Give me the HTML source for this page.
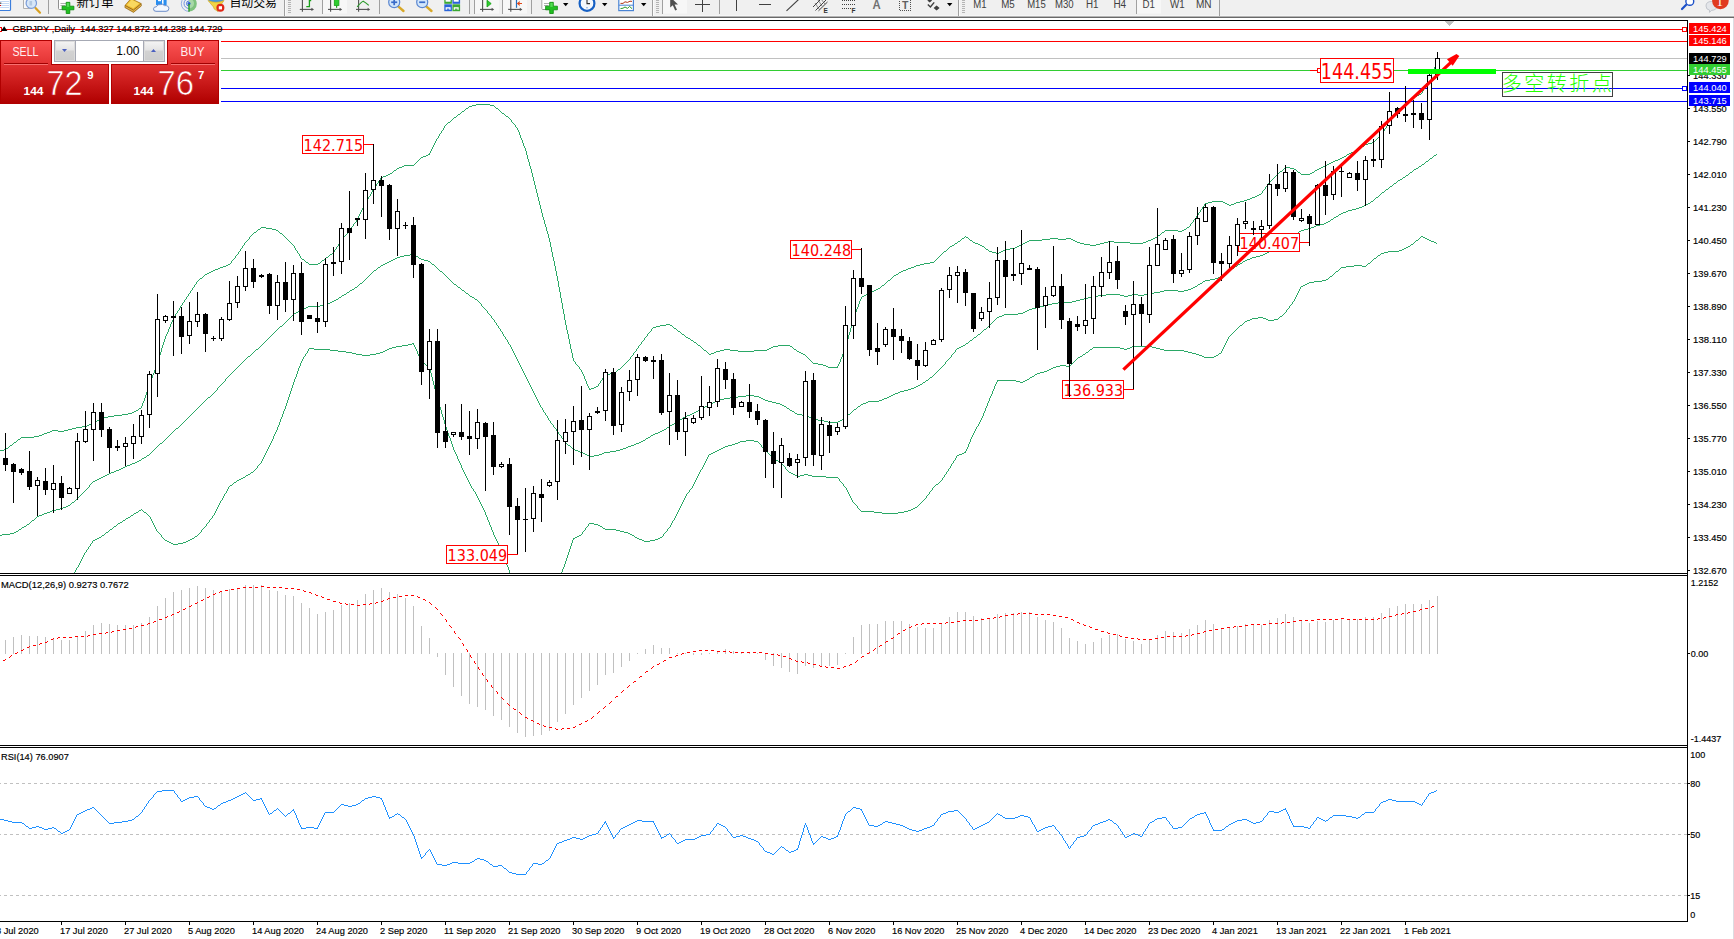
<!DOCTYPE html>
<html><head><meta charset="utf-8"><title>GBPJPY Daily</title>
<style>html,body{margin:0;padding:0;background:#fff}text.s{stroke:#000;stroke-width:.16px}body{width:1734px;height:939px;overflow:hidden;position:relative}</style>
</head><body>
<svg width="1734" height="939" viewBox="0 0 1734 939" style="position:absolute;left:0;top:0;font-family:'Liberation Sans','Noto Sans CJK SC',sans-serif">
<defs>
<linearGradient id="gbtn" x1="0" y1="0" x2="0" y2="1"><stop offset="0" stop-color="#fb5252"/><stop offset="1" stop-color="#e23232"/></linearGradient>
<linearGradient id="gprice" x1="0" y1="0" x2="0" y2="1"><stop offset="0" stop-color="#e03030"/><stop offset="1" stop-color="#b00000"/></linearGradient>
<linearGradient id="gspin" x1="0" y1="0" x2="0" y2="1"><stop offset="0" stop-color="#f4f4f4"/><stop offset="0.45" stop-color="#e4e4e4"/><stop offset="0.5" stop-color="#d2d2d2"/><stop offset="1" stop-color="#cdcdcd"/></linearGradient>
<clipPath id="cmain"><rect x="0" y="21" width="1687" height="552"/></clipPath>
<clipPath id="ctb"><rect x="0" y="0" width="1734" height="16"/></clipPath>
</defs>
<rect x="0" y="0" width="1734" height="939" fill="#fff"/>
<g shape-rendering="crispEdges">
<rect x="0" y="0" width="1734" height="16" fill="#f0f0f0"/>
<rect x="0" y="15" width="1734" height="1" fill="#f5f5f5"/>
<rect x="0" y="16" width="1734" height="1" fill="#b4b4b4"/>
<rect x="0" y="17" width="1734" height="1" fill="#696969"/>
<rect x="1733" y="18" width="1" height="921" fill="#dcdce2"/>
<rect x="0" y="20" width="1688" height="1" fill="#000"/>
<rect x="1687" y="20" width="1" height="902" fill="#000"/>
<rect x="0" y="573" width="1688" height="1" fill="#000"/>
<rect x="0" y="575" width="1688" height="1" fill="#000"/>
<rect x="0" y="745" width="1688" height="1" fill="#000"/>
<rect x="0" y="747" width="1688" height="1" fill="#000"/>
<rect x="0" y="921" width="1688" height="1" fill="#000"/>
<rect x="0" y="574" width="1687" height="1" fill="#fff"/>
<rect x="0" y="746" width="1687" height="1" fill="#fff"/>
</g>
<g clip-path="url(#cmain)">
<g shape-rendering="crispEdges">
<rect x="0" y="29" width="1687" height="1" fill="#ff0000"/>
<rect x="0" y="41" width="1687" height="1" fill="#ff0000"/>
<rect x="0" y="58" width="1687" height="1" fill="#c0c0c0"/>
<rect x="0" y="70" width="1687" height="1" fill="#32cd32"/>
<rect x="0" y="88" width="1687" height="1" fill="#0000ff"/>
<rect x="0" y="101" width="1687" height="1" fill="#0000ff"/>
<rect x="1682.5" y="27.5" width="4" height="4" fill="#fff" stroke="#ff0000" stroke-width="1"/>
<rect x="1682.5" y="86.5" width="4" height="4" fill="#fff" stroke="#0000ff" stroke-width="1"/>
<rect x="-2.5" y="27.5" width="4" height="4" fill="#fff" stroke="#ff0000" stroke-width="1"/>
</g>
<path fill="none" stroke="#2aa866" stroke-width="1" shape-rendering="crispEdges" d="M1419 94.5h2M1417 95.5h2M1415 96.5h2M1413 97.5h2M1410 99.5h2M1406 102.5h2M476 104.5h14M472 105.5h4M490 105.5h4M469 106.5h3M466 108.5h2M496 108.5h2M462 111.5h2M502 113.5h2M458 114.5h2M506 116.5h2M454 117.5h2M448 122.5h2M1372 142.5h2M1368 143.5h4M1365 144.5h3M1362 146.5h2M1358 149.5h2M1356 150.5h2M1354 151.5h2M1351 152.5h3M1349 153.5h2M428 154.5h2M1347 154.5h2M426 155.5h2M423 156.5h3M1344 156.5h2M421 157.5h2M1342 157.5h2M1340 158.5h2M1338 159.5h2M1335 160.5h3M1333 161.5h2M1331 162.5h2M1329 163.5h2M1327 164.5h2M404 165.5h10M1325 165.5h2M402 166.5h2M1323 166.5h2M399 167.5h3M1285 167.5h5M1321 167.5h2M397 168.5h2M1290 168.5h4M1319 168.5h2M1294 169.5h2M1317 169.5h2M394 170.5h2M1315 170.5h2M1280 171.5h2M1298 172.5h2M1312 172.5h2M390 173.5h2M1310 173.5h2M388 174.5h2M1301 174.5h9M386 175.5h2M383 176.5h3M381 177.5h2M1259 194.5h2M1257 195.5h2M1255 196.5h2M1252 197.5h3M1250 198.5h2M1247 199.5h3M1244 200.5h3M1212 201.5h11M1240 201.5h4M1208 202.5h4M1223 202.5h2M1236 202.5h4M1205 203.5h3M1225 203.5h2M1234 203.5h2M1227 204.5h2M1231 204.5h3M1229 205.5h2M261 227.5h5M1187 227.5h2M266 228.5h6M258 229.5h2M272 229.5h4M1184 229.5h2M276 230.5h2M1165 230.5h13M1182 230.5h2M1178 231.5h4M254 232.5h2M1162 232.5h2M280 233.5h2M1158 235.5h2M966 237.5h2M1155 237.5h2M962 238.5h2M1050 238.5h8M1066 238.5h5M1153 238.5h2M1042 239.5h8M1058 239.5h8M1071 239.5h2M1151 239.5h2M970 240.5h2M1029 240.5h13M1073 240.5h2M1148 240.5h3M958 241.5h2M1027 241.5h2M1075 241.5h2M1108 241.5h6M1146 241.5h2M973 242.5h2M1025 242.5h2M1077 242.5h3M1104 242.5h4M1114 242.5h16M1143 242.5h3M955 243.5h2M975 243.5h3M1023 243.5h2M1080 243.5h4M1100 243.5h4M1130 243.5h13M978 244.5h2M1021 244.5h2M1084 244.5h6M1096 244.5h4M952 245.5h2M980 245.5h2M1019 245.5h2M1090 245.5h6M950 246.5h2M982 246.5h2M1017 246.5h2M1015 247.5h2M1010 248.5h5M986 249.5h2M1005 249.5h5M1003 250.5h2M944 251.5h2M989 251.5h3M1001 251.5h2M992 252.5h4M999 252.5h2M996 253.5h3M330 254.5h2M326 257.5h2M302 259.5h2M322 260.5h2M306 262.5h2M930 262.5h4M318 263.5h2M924 263.5h6M228 264.5h2M309 264.5h9M920 264.5h4M226 265.5h2M916 265.5h4M223 266.5h3M914 266.5h2M220 267.5h3M911 267.5h3M218 268.5h2M908 268.5h3M215 269.5h3M906 269.5h2M213 270.5h2M903 270.5h3M211 271.5h2M901 271.5h2M209 272.5h2M899 272.5h2M207 273.5h2M205 274.5h2M896 274.5h2M894 275.5h2M200 278.5h2M888 280.5h2M882 285.5h2M878 288.5h2M876 289.5h2M874 290.5h2M871 291.5h3M869 292.5h2M867 293.5h2M864 295.5h2M862 296.5h2M666 324.5h4M660 325.5h6M670 325.5h2M656 326.5h4M653 327.5h3M674 328.5h2M678 331.5h2M682 334.5h2M686 337.5h2M688 338.5h2M691 340.5h2M694 342.5h2M698 345.5h2M778 345.5h12M773 346.5h5M790 346.5h2M771 347.5h2M769 348.5h2M724 349.5h6M767 349.5h2M794 349.5h2M704 350.5h2M720 350.5h4M730 350.5h8M754 350.5h13M716 351.5h4M738 351.5h16M797 351.5h2M714 352.5h2M799 352.5h2M711 353.5h3M801 353.5h2M709 354.5h2M803 354.5h2M813 363.5h5M818 364.5h5M823 365.5h3M826 366.5h2M828 367.5h10M618 369.5h2M614 372.5h2M610 373.5h4M605 374.5h5M596 386.5h2M594 387.5h2M591 388.5h3M589 389.5h2M139 408.5h2M136 410.5h2M134 411.5h2M132 412.5h2M128 413.5h4M122 414.5h6M114 415.5h8M108 416.5h6M104 417.5h4M101 418.5h3M99 419.5h2M97 420.5h2M95 421.5h2M93 422.5h2M91 423.5h2M89 424.5h2M87 425.5h2M82 426.5h5M76 427.5h6M72 428.5h4M68 429.5h4M52 430.5h6M64 430.5h4M50 431.5h2M58 431.5h6M47 432.5h3M44 433.5h3M42 434.5h2M39 435.5h3M34 436.5h5M21 437.5h13M18 439.5h2M14 442.5h2M10 445.5h2M6 448.5h2M4 449.5h2M0 450.5h4M8.5 447v1M9.5 446v1M12.5 444v1M13.5 443v1M16.5 441v1M17.5 440v1M20.5 438v1M138.5 409v1M141.5 406v2M142.5 403v3M143.5 401v2M144.5 398v3M145.5 395v3M146.5 392v3M147.5 390v2M148.5 387v3M149.5 384v3M150.5 381v3M151.5 378v3M152.5 375v3M153.5 373v2M154.5 370v3M155.5 367v3M156.5 364v3M157.5 361v3M158.5 358v3M159.5 355v3M160.5 352v3M161.5 348v4M162.5 345v3M163.5 342v3M164.5 339v3M165.5 336v3M166.5 334v2M167.5 332v2M168.5 329v3M169.5 327v2M170.5 324v3M171.5 322v2M172.5 320v2M173.5 318v2M174.5 316v2M175.5 314v2M176.5 313v1M177.5 311v2M178.5 310v1M179.5 308v2M180.5 306v2M181.5 305v1M182.5 303v2M183.5 302v1M184.5 300v2M185.5 299v1M186.5 297v2M187.5 296v1M188.5 294v2M189.5 293v1M190.5 291v2M191.5 290v1M192.5 288v2M193.5 287v1M194.5 285v2M195.5 284v1M196.5 282v2M197.5 281v1M198.5 280v1M199.5 279v1M202.5 277v1M203.5 276v1M204.5 275v1M230.5 263v1M231.5 261v2M232.5 260v1M233.5 259v1M234.5 258v1M235.5 256v2M236.5 255v1M237.5 254v1M238.5 252v2M239.5 251v1M240.5 249v2M241.5 248v1M242.5 246v2M243.5 245v1M244.5 243v2M245.5 242v1M246.5 241v1M247.5 240v1M248.5 239v1M249.5 237v2M250.5 236v1M251.5 235v1M252.5 234v1M253.5 233v1M256.5 231v1M257.5 230v1M260.5 228v1M278.5 231v1M279.5 232v1M282.5 234v1M283.5 235v1M284.5 236v1M285.5 237v1M286.5 238v1M287.5 239v1M288.5 240v1M289.5 241v1M290.5 242v1M291.5 243v1M292.5 244v1M293.5 245v1M294.5 246v2M295.5 248v2M296.5 250v1M297.5 251v2M298.5 253v1M299.5 254v2M300.5 256v2M301.5 258v1M304.5 260v1M305.5 261v1M308.5 263v1M320.5 262v1M321.5 261v1M324.5 259v1M325.5 258v1M328.5 256v1M329.5 255v1M332.5 253v1M333.5 252v1M334.5 250v2M335.5 249v1M336.5 247v2M337.5 246v1M338.5 244v2M339.5 243v1M340.5 241v2M341.5 240v1M342.5 239v1M343.5 237v2M344.5 236v1M345.5 235v1M346.5 234v1M347.5 232v2M348.5 231v1M349.5 230v1M350.5 228v2M351.5 227v1M352.5 226v1M353.5 224v2M354.5 223v1M355.5 222v1M356.5 220v2M357.5 218v2M358.5 216v2M359.5 214v2M360.5 212v2M361.5 210v2M362.5 208v2M363.5 206v2M364.5 204v2M365.5 203v1M366.5 201v2M367.5 199v2M368.5 197v2M369.5 196v1M370.5 194v2M371.5 192v2M372.5 190v2M373.5 189v1M374.5 187v2M375.5 186v1M376.5 184v2M377.5 183v1M378.5 181v2M379.5 180v1M380.5 178v2M392.5 172v1M393.5 171v1M396.5 169v1M414.5 164v1M415.5 163v1M416.5 162v1M417.5 161v1M418.5 160v1M419.5 159v1M420.5 158v1M429.5 153v1M430.5 151v2M431.5 149v2M432.5 147v2M433.5 145v2M434.5 143v2M435.5 141v2M436.5 139v2M437.5 138v1M438.5 136v2M439.5 134v2M440.5 133v1M441.5 131v2M442.5 130v1M443.5 128v2M444.5 126v2M445.5 125v1M446.5 124v1M447.5 123v1M450.5 121v1M451.5 120v1M452.5 119v1M453.5 118v1M456.5 116v1M457.5 115v1M460.5 113v1M461.5 112v1M464.5 110v1M465.5 109v1M468.5 107v1M494.5 106v1M495.5 107v1M498.5 109v1M499.5 110v1M500.5 111v1M501.5 112v1M504.5 114v1M505.5 115v1M508.5 117v1M509.5 118v1M510.5 119v1M511.5 120v2M512.5 122v1M513.5 123v1M514.5 124v1M515.5 125v2M516.5 127v1M517.5 128v2M518.5 130v2M519.5 132v3M520.5 135v3M521.5 138v2M522.5 140v3M523.5 143v3M524.5 146v2M525.5 148v3M526.5 151v4M527.5 155v4M528.5 159v3M529.5 162v4M530.5 166v3M531.5 169v4M532.5 173v4M533.5 177v4M534.5 181v4M535.5 185v4M536.5 189v4M537.5 193v4M538.5 197v4M539.5 201v4M540.5 205v4M541.5 209v4M542.5 213v4M543.5 217v3M544.5 220v4M545.5 224v3M546.5 227v4M547.5 231v3M548.5 234v4M549.5 238v4M550.5 242v5M551.5 247v5M552.5 252v5M553.5 257v4M554.5 261v5M555.5 266v5M556.5 271v5M557.5 276v5M558.5 281v6M559.5 287v5M560.5 292v6M561.5 298v5M562.5 303v6M563.5 309v5M564.5 314v6M565.5 320v5M566.5 325v5M567.5 330v4M568.5 334v5M569.5 339v5M570.5 344v5M571.5 349v4M572.5 353v5M573.5 358v3M574.5 361v1M575.5 362v2M576.5 364v1M577.5 365v1M578.5 366v1M579.5 367v2M580.5 369v1M581.5 370v2M582.5 372v2M583.5 374v2M584.5 376v3M585.5 379v2M586.5 381v3M587.5 384v2M588.5 386v2M589.5 388v1M598.5 384v2M599.5 383v1M600.5 381v2M601.5 380v1M602.5 378v2M603.5 377v1M604.5 375v2M616.5 371v1M617.5 370v1M620.5 368v1M621.5 367v1M622.5 366v1M623.5 365v1M624.5 364v1M625.5 363v1M626.5 362v1M627.5 361v1M628.5 360v1M629.5 359v1M630.5 357v2M631.5 356v1M632.5 355v1M633.5 353v2M634.5 352v1M635.5 351v1M636.5 349v2M637.5 348v1M638.5 346v2M639.5 345v1M640.5 344v1M641.5 342v2M642.5 341v1M643.5 340v1M644.5 338v2M645.5 337v1M646.5 336v1M647.5 334v2M648.5 333v1M649.5 332v1M650.5 331v1M651.5 329v2M652.5 328v1M672.5 326v1M673.5 327v1M676.5 329v1M677.5 330v1M680.5 332v1M681.5 333v1M684.5 335v1M685.5 336v1M690.5 339v1M693.5 341v1M696.5 343v1M697.5 344v1M700.5 346v1M701.5 347v1M702.5 348v1M703.5 349v1M706.5 351v1M707.5 352v1M708.5 353v1M792.5 347v1M793.5 348v1M796.5 350v1M805.5 355v1M806.5 356v1M807.5 357v1M808.5 358v1M809.5 359v1M810.5 360v1M811.5 361v1M812.5 362v1M837.5 366v1M838.5 364v2M839.5 362v2M840.5 359v3M841.5 357v2M842.5 354v3M843.5 352v2M844.5 350v2M845.5 347v3M846.5 343v4M847.5 339v4M848.5 335v4M849.5 332v3M850.5 328v4M851.5 324v4M852.5 320v4M853.5 317v3M854.5 315v2M855.5 312v3M856.5 309v3M857.5 307v2M858.5 304v3M859.5 301v3M860.5 299v2M861.5 297v2M866.5 294v1M880.5 287v1M881.5 286v1M884.5 284v1M885.5 283v1M886.5 282v1M887.5 281v1M890.5 279v1M891.5 278v1M892.5 277v1M893.5 276v1M898.5 273v1M934.5 261v1M935.5 260v1M936.5 259v1M937.5 258v1M938.5 257v1M939.5 256v1M940.5 255v1M941.5 254v1M942.5 253v1M943.5 252v1M946.5 250v1M947.5 249v1M948.5 248v1M949.5 247v1M954.5 244v1M957.5 242v1M960.5 240v1M961.5 239v1M964.5 237v1M965.5 236v1M968.5 238v1M969.5 239v1M972.5 241v1M984.5 247v1M985.5 248v1M988.5 250v1M1157.5 236v1M1160.5 234v1M1161.5 233v1M1164.5 231v1M1186.5 228v1M1189.5 226v1M1190.5 224v2M1191.5 223v1M1192.5 222v1M1193.5 220v2M1194.5 219v1M1195.5 218v1M1196.5 216v2M1197.5 215v1M1198.5 213v2M1199.5 212v1M1200.5 210v2M1201.5 209v1M1202.5 207v2M1203.5 206v1M1204.5 204v2M1261.5 193v1M1262.5 191v2M1263.5 190v1M1264.5 189v1M1265.5 187v2M1266.5 186v1M1267.5 185v1M1268.5 183v2M1269.5 182v1M1270.5 181v1M1271.5 180v1M1272.5 179v1M1273.5 178v1M1274.5 177v1M1275.5 176v1M1276.5 175v1M1277.5 174v1M1278.5 173v1M1279.5 172v1M1282.5 170v1M1283.5 169v1M1284.5 168v1M1296.5 170v1M1297.5 171v1M1300.5 173v1M1314.5 171v1M1346.5 155v1M1360.5 148v1M1361.5 147v1M1364.5 145v1M1374.5 141v1M1375.5 140v1M1376.5 139v1M1377.5 138v1M1378.5 137v1M1379.5 136v1M1380.5 135v1M1381.5 134v1M1382.5 132v2M1383.5 131v1M1384.5 129v2M1385.5 128v1M1386.5 126v2M1387.5 125v1M1388.5 123v2M1389.5 122v1M1390.5 121v1M1391.5 119v2M1392.5 118v1M1393.5 117v1M1394.5 116v1M1395.5 114v2M1396.5 113v1M1397.5 112v1M1398.5 111v1M1399.5 110v1M1400.5 109v1M1401.5 107v2M1402.5 106v1M1403.5 105v1M1404.5 104v1M1405.5 103v1M1408.5 101v1M1409.5 100v1M1412.5 98v1M1421.5 93v1M1422.5 91v2M1423.5 89v2M1424.5 87v2M1425.5 85v2M1426.5 83v2M1427.5 81v2M1428.5 79v2M1429.5 77v2M1430.5 75v2M1431.5 73v2M1432.5 71v2M1433.5 69v2M1434.5 67v2M1435.5 65v2M1436.5 63v2"/>
<path fill="none" stroke="#2aa866" stroke-width="1" shape-rendering="crispEdges" d="M1434 155.5h2M1430 158.5h2M1426 161.5h2M1422 164.5h2M1419 166.5h2M1416 168.5h2M1414 169.5h2M1410 172.5h2M1406 175.5h2M1403 177.5h2M1400 179.5h2M1398 180.5h2M1394 183.5h2M1390 186.5h2M1386 189.5h2M1382 192.5h2M1376 197.5h2M1371 201.5h2M1368 203.5h2M1366 204.5h2M1364 205.5h2M1362 206.5h2M1359 207.5h3M1356 208.5h3M1352 209.5h4M1348 210.5h4M1346 211.5h2M1343 212.5h3M1341 213.5h2M1339 214.5h2M1336 216.5h2M1334 217.5h2M1331 219.5h2M1328 221.5h2M1326 222.5h2M1324 223.5h2M1320 224.5h4M1316 225.5h4M1314 226.5h2M1311 227.5h3M1308 228.5h3M1304 229.5h4M1301 230.5h3M1299 231.5h2M1296 233.5h2M1294 234.5h2M1291 236.5h2M1289 237.5h2M1287 238.5h2M1285 239.5h2M1275 248.5h2M1273 249.5h2M1271 250.5h2M1269 251.5h2M1267 252.5h2M1265 253.5h2M410 254.5h4M1263 254.5h2M404 255.5h6M414 255.5h2M1260 255.5h3M400 256.5h4M416 256.5h2M1256 256.5h4M397 257.5h3M1252 257.5h4M395 258.5h2M419 258.5h2M1250 258.5h2M393 259.5h2M421 259.5h3M1247 259.5h3M391 260.5h2M424 260.5h4M1245 260.5h2M389 261.5h2M428 261.5h2M1243 261.5h2M387 262.5h2M385 263.5h2M1240 263.5h2M383 264.5h2M432 264.5h2M1238 264.5h2M381 265.5h2M1235 266.5h2M378 267.5h2M1232 268.5h2M1230 269.5h2M374 270.5h2M440 271.5h2M1226 272.5h2M1222 275.5h2M1220 276.5h2M1218 277.5h2M1215 278.5h3M1210 279.5h5M1205 280.5h5M1203 281.5h2M360 283.5h2M1200 283.5h2M454 284.5h2M1198 284.5h2M1195 286.5h2M355 287.5h2M458 287.5h2M1193 287.5h2M1191 288.5h2M352 289.5h2M1188 289.5h3M350 290.5h2M462 290.5h2M1164 290.5h14M1184 290.5h4M1160 291.5h4M1178 291.5h6M347 292.5h2M1154 292.5h6M466 293.5h2M1148 293.5h6M344 294.5h2M1106 294.5h14M1132 294.5h6M1144 294.5h4M342 295.5h2M1098 295.5h8M1120 295.5h4M1128 295.5h4M1138 295.5h6M470 296.5h2M1092 296.5h6M1124 296.5h4M339 297.5h2M472 297.5h2M1088 297.5h4M1084 298.5h4M336 299.5h2M475 299.5h2M1080 299.5h4M334 300.5h2M1076 300.5h4M332 301.5h2M1072 301.5h4M330 302.5h2M1058 302.5h14M327 303.5h3M1052 303.5h6M324 304.5h3M1048 304.5h4M320 305.5h4M1044 305.5h4M308 306.5h12M1040 306.5h4M306 307.5h2M1036 307.5h4M303 308.5h3M1032 308.5h4M301 309.5h2M1029 309.5h3M299 310.5h2M1027 310.5h2M1025 311.5h2M296 312.5h2M1023 312.5h2M294 313.5h2M1018 313.5h5M1004 314.5h14M1002 315.5h2M999 316.5h3M997 317.5h2M280 326.5h2M984 329.5h2M978 334.5h2M974 337.5h2M970 340.5h2M966 343.5h2M963 345.5h2M961 346.5h2M959 347.5h2M957 348.5h2M256 349.5h2M248 356.5h2M930 377.5h2M926 380.5h2M923 382.5h2M920 384.5h2M918 385.5h2M916 386.5h2M914 387.5h2M911 388.5h3M908 389.5h3M904 390.5h4M900 391.5h4M898 392.5h2M895 393.5h3M893 394.5h2M746 395.5h8M891 395.5h2M738 396.5h8M754 396.5h5M889 396.5h2M208 397.5h2M730 397.5h8M759 397.5h2M887 397.5h2M724 398.5h6M761 398.5h2M884 398.5h3M720 399.5h4M763 399.5h2M882 399.5h2M717 400.5h3M765 400.5h3M879 400.5h3M715 401.5h2M768 401.5h4M868 401.5h11M713 402.5h2M772 402.5h4M866 402.5h2M711 403.5h2M776 403.5h4M863 403.5h3M709 404.5h2M780 404.5h2M861 404.5h2M707 405.5h2M782 405.5h2M705 406.5h2M784 406.5h2M858 406.5h2M703 407.5h2M701 408.5h2M787 408.5h2M699 409.5h2M854 409.5h2M790 410.5h2M696 411.5h2M792 411.5h2M694 412.5h2M692 413.5h2M795 413.5h2M690 414.5h2M797 414.5h5M848 414.5h2M687 415.5h3M802 415.5h5M685 416.5h2M807 416.5h2M683 417.5h2M809 417.5h2M811 418.5h2M843 418.5h2M680 419.5h2M813 419.5h5M678 420.5h2M818 420.5h6M840 420.5h2M824 421.5h4M838 421.5h2M675 422.5h2M828 422.5h10M672 424.5h2M670 425.5h2M667 427.5h2M176 428.5h2M664 429.5h2M662 430.5h2M660 431.5h2M658 432.5h2M655 433.5h3M653 434.5h2M651 435.5h2M648 437.5h2M646 438.5h2M643 440.5h2M641 441.5h2M639 442.5h2M160 443.5h2M636 443.5h3M634 444.5h2M568 445.5h2M631 445.5h3M628 446.5h3M626 447.5h2M623 448.5h3M573 449.5h2M620 449.5h3M575 450.5h3M616 450.5h4M578 451.5h2M610 451.5h6M580 452.5h3M604 452.5h6M583 453.5h2M602 453.5h2M585 454.5h2M599 454.5h3M147 455.5h2M587 455.5h2M594 455.5h5M589 456.5h5M144 457.5h2M142 458.5h2M139 460.5h2M137 461.5h2M135 462.5h2M132 463.5h3M130 464.5h2M127 465.5h3M125 466.5h2M123 467.5h2M121 468.5h2M119 469.5h2M116 470.5h3M114 471.5h2M111 472.5h3M109 473.5h2M107 474.5h2M105 475.5h2M103 476.5h2M101 477.5h2M99 478.5h2M97 479.5h2M95 480.5h2M93 481.5h2M72 502.5h2M68 505.5h2M66 506.5h2M63 507.5h3M60 508.5h3M56 509.5h4M52 510.5h4M50 511.5h2M47 512.5h3M44 513.5h3M42 514.5h2M39 515.5h3M37 516.5h2M32 520.5h2M27 524.5h2M24 526.5h2M22 527.5h2M19 529.5h2M16 531.5h2M14 532.5h2M10 533.5h4M2 534.5h8M0 535.5h2M18.5 530v1M21.5 528v1M26.5 525v1M29.5 523v1M30.5 522v1M31.5 521v1M34.5 519v1M35.5 518v1M36.5 517v1M70.5 504v1M71.5 503v1M74.5 501v1M75.5 500v1M76.5 499v1M77.5 498v1M78.5 497v1M79.5 496v1M80.5 495v1M81.5 494v1M82.5 493v1M83.5 492v1M84.5 491v1M85.5 490v1M86.5 489v1M87.5 488v1M88.5 487v1M89.5 485v2M90.5 484v1M91.5 483v1M92.5 482v1M141.5 459v1M146.5 456v1M149.5 454v1M150.5 453v1M151.5 452v1M152.5 451v1M153.5 450v1M154.5 449v1M155.5 448v1M156.5 447v1M157.5 446v1M158.5 445v1M159.5 444v1M162.5 442v1M163.5 441v1M164.5 440v1M165.5 439v1M166.5 438v1M167.5 437v1M168.5 436v1M169.5 435v1M170.5 434v1M171.5 433v1M172.5 432v1M173.5 431v1M174.5 430v1M175.5 429v1M178.5 427v1M179.5 426v1M180.5 425v1M181.5 424v1M182.5 423v1M183.5 422v1M184.5 421v1M185.5 420v1M186.5 419v1M187.5 418v1M188.5 417v1M189.5 416v1M190.5 415v1M191.5 414v1M192.5 413v1M193.5 412v1M194.5 411v1M195.5 410v1M196.5 409v1M197.5 408v1M198.5 407v1M199.5 406v1M200.5 405v1M201.5 404v1M202.5 403v1M203.5 402v1M204.5 401v1M205.5 400v1M206.5 399v1M207.5 398v1M210.5 396v1M211.5 395v1M212.5 394v1M213.5 393v1M214.5 392v1M215.5 391v1M216.5 390v1M217.5 388v2M218.5 387v1M219.5 386v1M220.5 385v1M221.5 384v1M222.5 383v1M223.5 382v1M224.5 381v1M225.5 379v2M226.5 378v1M227.5 377v1M228.5 376v1M229.5 375v1M230.5 374v1M231.5 373v1M232.5 372v1M233.5 371v1M234.5 370v1M235.5 369v1M236.5 368v1M237.5 367v1M238.5 366v1M239.5 365v1M240.5 364v1M241.5 363v1M242.5 362v1M243.5 361v1M244.5 360v1M245.5 359v1M246.5 358v1M247.5 357v1M250.5 355v1M251.5 354v1M252.5 353v1M253.5 352v1M254.5 351v1M255.5 350v1M258.5 348v1M259.5 347v1M260.5 346v1M261.5 345v1M262.5 344v1M263.5 343v1M264.5 342v1M265.5 341v1M266.5 340v1M267.5 339v1M268.5 338v1M269.5 337v1M270.5 336v1M271.5 335v1M272.5 334v1M273.5 333v1M274.5 332v1M275.5 331v1M276.5 330v1M277.5 329v1M278.5 328v1M279.5 327v1M282.5 325v1M283.5 324v1M284.5 323v1M285.5 322v1M286.5 321v1M287.5 320v1M288.5 319v1M289.5 318v1M290.5 317v1M291.5 316v1M292.5 315v1M293.5 314v1M298.5 311v1M338.5 298v1M341.5 296v1M346.5 293v1M349.5 291v1M354.5 288v1M357.5 286v1M358.5 285v1M359.5 284v1M362.5 282v1M363.5 281v1M364.5 280v1M365.5 279v1M366.5 278v1M367.5 277v1M368.5 276v1M369.5 275v1M370.5 274v1M371.5 273v1M372.5 272v1M373.5 271v1M376.5 269v1M377.5 268v1M380.5 266v1M418.5 257v1M430.5 262v1M431.5 263v1M434.5 265v1M435.5 266v1M436.5 267v1M437.5 268v1M438.5 269v1M439.5 270v1M442.5 272v1M443.5 273v1M444.5 274v1M445.5 275v1M446.5 276v1M447.5 277v1M448.5 278v1M449.5 279v1M450.5 280v1M451.5 281v1M452.5 282v1M453.5 283v1M456.5 285v1M457.5 286v1M460.5 288v1M461.5 289v1M464.5 291v1M465.5 292v1M468.5 294v1M469.5 295v1M474.5 298v1M477.5 300v1M478.5 301v1M479.5 302v1M480.5 303v1M481.5 304v2M482.5 306v1M483.5 307v1M484.5 308v1M485.5 309v1M486.5 310v1M487.5 311v2M488.5 313v1M489.5 314v1M490.5 315v1M491.5 316v2M492.5 318v1M493.5 319v1M494.5 320v2M495.5 322v1M496.5 323v2M497.5 325v1M498.5 326v2M499.5 328v1M500.5 329v2M501.5 331v1M502.5 332v2M503.5 334v2M504.5 336v1M505.5 337v2M506.5 339v1M507.5 340v2M508.5 342v2M509.5 344v1M510.5 345v2M511.5 347v2M512.5 349v2M513.5 351v2M514.5 353v2M515.5 355v2M516.5 357v2M517.5 359v2M518.5 361v2M519.5 363v2M520.5 365v2M521.5 367v2M522.5 369v2M523.5 371v2M524.5 373v2M525.5 375v2M526.5 377v2M527.5 379v2M528.5 381v2M529.5 383v2M530.5 385v2M531.5 387v2M532.5 389v2M533.5 391v2M534.5 393v2M535.5 395v2M536.5 397v2M537.5 399v2M538.5 401v2M539.5 403v2M540.5 405v2M541.5 407v1M542.5 408v2M543.5 410v2M544.5 412v1M545.5 413v2M546.5 415v1M547.5 416v2M548.5 418v2M549.5 420v1M550.5 421v2M551.5 423v1M552.5 424v1M553.5 425v2M554.5 427v1M555.5 428v1M556.5 429v2M557.5 431v1M558.5 432v2M559.5 434v1M560.5 435v1M561.5 436v2M562.5 438v1M563.5 439v1M564.5 440v2M565.5 442v1M566.5 443v1M567.5 444v1M570.5 446v1M571.5 447v1M572.5 448v1M645.5 439v1M650.5 436v1M666.5 428v1M669.5 426v1M674.5 423v1M677.5 421v1M682.5 418v1M698.5 410v1M786.5 407v1M789.5 409v1M794.5 412v1M842.5 419v1M845.5 417v1M846.5 416v1M847.5 415v1M850.5 413v1M851.5 412v1M852.5 411v1M853.5 410v1M856.5 408v1M857.5 407v1M860.5 405v1M922.5 383v1M925.5 381v1M928.5 379v1M929.5 378v1M932.5 376v1M933.5 375v1M934.5 374v1M935.5 373v1M936.5 372v1M937.5 371v1M938.5 370v1M939.5 369v1M940.5 368v1M941.5 367v1M942.5 366v1M943.5 365v1M944.5 364v1M945.5 362v2M946.5 361v1M947.5 360v1M948.5 359v1M949.5 358v1M950.5 357v1M951.5 355v2M952.5 354v1M953.5 353v1M954.5 352v1M955.5 350v2M956.5 349v1M965.5 344v1M968.5 342v1M969.5 341v1M972.5 339v1M973.5 338v1M976.5 336v1M977.5 335v1M980.5 333v1M981.5 332v1M982.5 331v1M983.5 330v1M986.5 328v1M987.5 327v1M988.5 326v1M989.5 325v1M990.5 324v1M991.5 323v1M992.5 322v1M993.5 321v1M994.5 320v1M995.5 319v1M996.5 318v1M1197.5 285v1M1202.5 282v1M1224.5 274v1M1225.5 273v1M1228.5 271v1M1229.5 270v1M1234.5 267v1M1237.5 265v1M1242.5 262v1M1277.5 247v1M1278.5 246v1M1279.5 245v1M1280.5 244v1M1281.5 243v1M1282.5 242v1M1283.5 241v1M1284.5 240v1M1293.5 235v1M1298.5 232v1M1330.5 220v1M1333.5 218v1M1338.5 215v1M1370.5 202v1M1373.5 200v1M1374.5 199v1M1375.5 198v1M1378.5 196v1M1379.5 195v1M1380.5 194v1M1381.5 193v1M1384.5 191v1M1385.5 190v1M1388.5 188v1M1389.5 187v1M1392.5 185v1M1393.5 184v1M1396.5 182v1M1397.5 181v1M1402.5 178v1M1405.5 176v1M1408.5 174v1M1409.5 173v1M1412.5 171v1M1413.5 170v1M1418.5 167v1M1421.5 165v1M1424.5 163v1M1425.5 162v1M1428.5 160v1M1429.5 159v1M1432.5 157v1M1433.5 156v1M1436.5 154v1"/>
<path fill="none" stroke="#2aa866" stroke-width="1" shape-rendering="crispEdges" d="M1421 236.5h2M1423 237.5h2M1425 238.5h2M1427 239.5h2M1416 240.5h2M1429 240.5h2M1431 241.5h3M1434 242.5h2M1411 244.5h2M1408 246.5h2M1406 247.5h2M1404 248.5h2M1402 249.5h2M1399 250.5h3M1388 251.5h11M1384 252.5h4M1381 253.5h3M1378 255.5h2M1374 258.5h2M1368 263.5h2M1354 265.5h8M1346 266.5h8M1362 266.5h4M1341 267.5h5M1336 271.5h2M1330 276.5h2M1326 279.5h2M1322 280.5h4M1314 281.5h8M1309 282.5h5M1307 283.5h2M1305 284.5h2M1303 285.5h2M1301 286.5h2M1280 316.5h2M1258 317.5h5M1252 318.5h6M1263 318.5h3M1250 319.5h2M1266 319.5h2M1274 319.5h4M1247 320.5h3M1268 320.5h6M1245 321.5h2M1240 325.5h2M412 343.5h2M408 344.5h4M402 345.5h6M396 346.5h6M1132 346.5h20M392 347.5h4M1093 347.5h27M1130 347.5h2M1152 347.5h4M309 348.5h5M389 348.5h3M1120 348.5h4M1127 348.5h3M1156 348.5h4M314 349.5h16M387 349.5h2M1090 349.5h2M1124 349.5h3M1160 349.5h4M330 350.5h8M385 350.5h2M1164 350.5h20M338 351.5h8M383 351.5h2M1184 351.5h4M346 352.5h6M380 352.5h3M1086 352.5h2M1188 352.5h4M352 353.5h4M376 353.5h4M1192 353.5h4M1219 353.5h2M356 354.5h6M370 354.5h6M1083 354.5h2M1196 354.5h3M362 355.5h8M1199 355.5h3M1216 355.5h2M1080 356.5h2M1202 356.5h2M1214 356.5h2M1078 357.5h2M1204 357.5h10M422 362.5h2M426 365.5h2M1060 365.5h6M1056 366.5h4M1066 366.5h4M1053 367.5h3M1051 368.5h2M1049 369.5h2M1047 370.5h2M1044 371.5h3M1040 372.5h4M1037 373.5h3M1035 374.5h2M1032 376.5h2M1030 377.5h2M1027 379.5h2M997 380.5h19M1025 380.5h2M1016 381.5h4M1023 381.5h2M1020 382.5h3M746 440.5h8M740 441.5h6M754 441.5h4M738 442.5h2M735 443.5h3M732 444.5h3M728 445.5h4M725 446.5h3M723 447.5h2M721 448.5h2M719 449.5h2M717 450.5h2M715 451.5h2M713 452.5h2M964 452.5h2M711 453.5h2M962 453.5h2M709 454.5h2M959 454.5h3M957 455.5h2M774 459.5h2M776 460.5h2M779 462.5h2M251 472.5h2M789 472.5h2M791 473.5h2M248 474.5h2M793 474.5h2M804 474.5h4M246 475.5h2M795 475.5h2M800 475.5h4M808 475.5h4M797 476.5h3M812 476.5h14M243 477.5h2M826 477.5h12M241 478.5h2M239 479.5h2M237 480.5h2M234 482.5h2M936 484.5h2M230 485.5h2M915 507.5h2M913 508.5h2M911 509.5h2M139 510.5h2M908 510.5h3M861 511.5h13M904 511.5h4M136 512.5h2M144 512.5h2M874 512.5h8M898 512.5h6M134 513.5h2M882 513.5h16M131 515.5h2M128 517.5h2M126 518.5h2M123 520.5h2M120 522.5h2M118 523.5h2M589 523.5h5M594 524.5h4M598 525.5h2M114 526.5h2M600 526.5h2M603 528.5h2M110 529.5h2M605 529.5h11M616 530.5h4M620 531.5h4M106 532.5h2M624 532.5h4M628 533.5h2M630 534.5h2M102 535.5h2M579 535.5h2M632 535.5h2M195 536.5h2M577 536.5h2M99 537.5h2M575 537.5h2M635 537.5h2M660 537.5h2M97 538.5h2M192 538.5h2M573 538.5h2M637 538.5h2M658 538.5h2M95 539.5h2M190 539.5h2M639 539.5h3M655 539.5h3M93 540.5h2M165 540.5h2M188 540.5h2M642 540.5h2M650 540.5h5M167 541.5h2M186 541.5h2M644 541.5h6M169 542.5h2M183 542.5h3M171 543.5h2M178 543.5h5M173 544.5h5M74.5 572v1M75.5 570v2M76.5 568v2M77.5 567v1M78.5 565v2M79.5 563v2M80.5 561v2M81.5 559v2M82.5 557v2M83.5 555v2M84.5 553v2M85.5 552v1M86.5 550v2M87.5 549v1M88.5 547v2M89.5 546v1M90.5 544v2M91.5 543v1M92.5 541v2M101.5 536v1M104.5 534v1M105.5 533v1M108.5 531v1M109.5 530v1M112.5 528v1M113.5 527v1M116.5 525v1M117.5 524v1M122.5 521v1M125.5 519v1M130.5 516v1M133.5 514v1M138.5 511v1M141.5 509v1M142.5 510v1M143.5 511v1M146.5 513v1M147.5 514v1M148.5 515v1M149.5 516v1M150.5 517v2M151.5 519v2M152.5 521v2M153.5 523v2M154.5 525v2M155.5 527v2M156.5 529v2M157.5 531v1M158.5 532v1M159.5 533v1M160.5 534v1M161.5 535v2M162.5 537v1M163.5 538v1M164.5 539v1M194.5 537v1M197.5 535v1M198.5 534v1M199.5 533v1M200.5 532v1M201.5 530v2M202.5 529v1M203.5 528v1M204.5 527v1M205.5 526v1M206.5 524v2M207.5 523v1M208.5 522v1M209.5 520v2M210.5 519v1M211.5 518v1M212.5 516v2M213.5 515v1M214.5 513v2M215.5 511v2M216.5 509v2M217.5 507v2M218.5 505v2M219.5 503v2M220.5 501v2M221.5 500v1M222.5 498v2M223.5 496v2M224.5 494v2M225.5 493v1M226.5 491v2M227.5 489v2M228.5 487v2M229.5 486v1M232.5 484v1M233.5 483v1M236.5 481v1M245.5 476v1M250.5 473v1M253.5 471v1M254.5 470v1M255.5 469v1M256.5 468v1M257.5 466v2M258.5 465v1M259.5 464v1M260.5 463v1M261.5 461v2M262.5 459v2M263.5 457v2M264.5 455v2M265.5 453v2M266.5 451v2M267.5 449v2M268.5 447v2M269.5 445v2M270.5 443v2M271.5 441v2M272.5 439v2M273.5 436v3M274.5 434v2M275.5 432v2M276.5 430v2M277.5 427v3M278.5 425v2M279.5 422v3M280.5 419v3M281.5 417v2M282.5 414v3M283.5 411v3M284.5 409v2M285.5 406v3M286.5 403v3M287.5 400v3M288.5 397v3M289.5 394v3M290.5 391v3M291.5 388v3M292.5 385v3M293.5 382v3M294.5 379v3M295.5 377v2M296.5 374v3M297.5 371v3M298.5 368v3M299.5 366v2M300.5 363v3M301.5 361v2M302.5 359v2M303.5 357v2M304.5 356v1M305.5 354v2M306.5 353v1M307.5 351v2M308.5 349v2M413.5 344v1M414.5 345v2M415.5 347v2M416.5 349v2M417.5 351v3M418.5 354v2M419.5 356v2M420.5 358v2M421.5 360v2M424.5 363v1M425.5 364v1M428.5 366v1M429.5 367v2M430.5 369v4M431.5 373v4M432.5 377v4M433.5 381v4M434.5 385v4M435.5 389v4M436.5 393v4M437.5 397v3M438.5 400v4M439.5 404v3M440.5 407v3M441.5 410v4M442.5 414v3M443.5 417v3M444.5 420v4M445.5 424v3M446.5 427v3M447.5 430v3M448.5 433v3M449.5 436v2M450.5 438v3M451.5 441v3M452.5 444v3M453.5 447v3M454.5 450v2M455.5 452v2M456.5 454v2M457.5 456v3M458.5 459v2M459.5 461v2M460.5 463v2M461.5 465v3M462.5 468v2M463.5 470v2M464.5 472v2M465.5 474v2M466.5 476v2M467.5 478v2M468.5 480v2M469.5 482v2M470.5 484v2M471.5 486v2M472.5 488v1M473.5 489v2M474.5 491v1M475.5 492v2M476.5 494v2M477.5 496v2M478.5 498v2M479.5 500v2M480.5 502v2M481.5 504v2M482.5 506v2M483.5 508v2M484.5 510v2M485.5 512v3M486.5 515v2M487.5 517v3M488.5 520v2M489.5 522v3M490.5 525v2M491.5 527v3M492.5 530v2M493.5 532v3M494.5 535v2M495.5 537v2M496.5 539v2M497.5 541v2M498.5 543v2M499.5 545v2M500.5 547v2M501.5 549v2M502.5 551v3M503.5 554v2M504.5 556v3M505.5 559v3M506.5 562v3M507.5 565v2M508.5 567v3M509.5 570v3M561.5 572v1M562.5 569v3M563.5 567v2M564.5 564v3M565.5 561v3M566.5 558v3M567.5 555v3M568.5 552v3M569.5 549v3M570.5 546v3M571.5 543v3M572.5 540v3M573.5 539v1M581.5 534v1M582.5 532v2M583.5 531v1M584.5 530v1M585.5 528v2M586.5 527v1M587.5 526v1M588.5 524v2M602.5 527v1M634.5 536v1M662.5 536v1M663.5 534v2M664.5 533v1M665.5 532v1M666.5 531v1M667.5 529v2M668.5 528v1M669.5 527v1M670.5 525v2M671.5 523v2M672.5 521v2M673.5 520v1M674.5 518v2M675.5 516v2M676.5 514v2M677.5 512v2M678.5 510v2M679.5 508v2M680.5 506v2M681.5 504v2M682.5 502v2M683.5 500v2M684.5 498v2M685.5 496v2M686.5 494v2M687.5 493v1M688.5 492v1M689.5 490v2M690.5 489v1M691.5 488v1M692.5 486v2M693.5 484v2M694.5 482v2M695.5 480v2M696.5 478v2M697.5 476v2M698.5 474v2M699.5 472v2M700.5 470v2M701.5 469v1M702.5 467v2M703.5 465v2M704.5 463v2M705.5 461v2M706.5 459v2M707.5 457v2M708.5 455v2M758.5 442v1M759.5 443v1M760.5 444v1M761.5 445v2M762.5 447v1M763.5 448v1M764.5 449v1M765.5 450v1M766.5 451v1M767.5 452v1M768.5 453v1M769.5 454v1M770.5 455v1M771.5 456v1M772.5 457v1M773.5 458v1M778.5 461v1M781.5 463v1M782.5 464v1M783.5 465v1M784.5 466v1M785.5 467v2M786.5 469v1M787.5 470v1M788.5 471v1M838.5 478v1M839.5 479v2M840.5 481v1M841.5 482v1M842.5 483v1M843.5 484v2M844.5 486v1M845.5 487v1M846.5 488v2M847.5 490v2M848.5 492v2M849.5 494v2M850.5 496v2M851.5 498v2M852.5 500v2M853.5 502v1M854.5 503v1M855.5 504v1M856.5 505v1M857.5 506v2M858.5 508v1M859.5 509v1M860.5 510v1M917.5 506v1M918.5 505v1M919.5 504v1M920.5 503v1M921.5 502v1M922.5 501v1M923.5 500v1M924.5 499v1M925.5 498v1M926.5 496v2M927.5 495v1M928.5 494v1M929.5 492v2M930.5 491v1M931.5 490v1M932.5 488v2M933.5 487v1M934.5 486v1M935.5 485v1M938.5 483v1M939.5 482v1M940.5 481v1M941.5 480v1M942.5 478v2M943.5 477v1M944.5 475v2M945.5 474v1M946.5 472v2M947.5 471v1M948.5 469v2M949.5 468v1M950.5 466v2M951.5 464v2M952.5 463v1M953.5 461v2M954.5 460v1M955.5 458v2M956.5 456v2M965.5 451v1M966.5 449v2M967.5 447v2M968.5 444v3M969.5 442v2M970.5 439v3M971.5 437v2M972.5 435v2M973.5 433v2M974.5 431v2M975.5 429v2M976.5 427v2M977.5 426v1M978.5 424v2M979.5 422v2M980.5 420v2M981.5 418v2M982.5 416v2M983.5 413v3M984.5 411v2M985.5 408v3M986.5 406v2M987.5 403v3M988.5 401v2M989.5 398v3M990.5 396v2M991.5 394v2M992.5 391v3M993.5 389v2M994.5 386v3M995.5 384v2M996.5 382v2M997.5 381v1M1029.5 378v1M1034.5 375v1M1070.5 365v1M1071.5 364v1M1072.5 363v1M1073.5 362v1M1074.5 361v1M1075.5 360v1M1076.5 359v1M1077.5 358v1M1082.5 355v1M1085.5 353v1M1088.5 351v1M1089.5 350v1M1092.5 348v1M1218.5 354v1M1221.5 351v2M1222.5 349v2M1223.5 347v2M1224.5 345v2M1225.5 343v2M1226.5 341v2M1227.5 339v2M1228.5 337v2M1229.5 336v1M1230.5 335v1M1231.5 334v1M1232.5 333v1M1233.5 332v1M1234.5 331v1M1235.5 330v1M1236.5 329v1M1237.5 328v1M1238.5 327v1M1239.5 326v1M1242.5 324v1M1243.5 323v1M1244.5 322v1M1278.5 318v1M1279.5 317v1M1282.5 315v1M1283.5 314v1M1284.5 313v1M1285.5 312v1M1286.5 310v2M1287.5 309v1M1288.5 308v1M1289.5 306v2M1290.5 305v1M1291.5 304v1M1292.5 302v2M1293.5 301v1M1294.5 299v2M1295.5 297v2M1296.5 295v2M1297.5 293v2M1298.5 291v2M1299.5 289v2M1300.5 287v2M1328.5 278v1M1329.5 277v1M1332.5 275v1M1333.5 274v1M1334.5 273v1M1335.5 272v1M1338.5 270v1M1339.5 269v1M1340.5 268v1M1366.5 265v1M1367.5 264v1M1370.5 262v1M1371.5 261v1M1372.5 260v1M1373.5 259v1M1376.5 257v1M1377.5 256v1M1380.5 254v1M1410.5 245v1M1413.5 243v1M1414.5 242v1M1415.5 241v1M1418.5 239v1M1419.5 238v1M1420.5 237v1M1436.5 243v1"/>
<rect x="302.5" y="135.5" width="61" height="18" fill="#fff" stroke="#ff0000" stroke-width="1" shape-rendering="crispEdges"/>
<text x="303.6" y="151.1" font-size="16.2" fill="#ff0000" font-family="'DejaVu Sans','Liberation Sans',sans-serif" textLength="59.6" lengthAdjust="spacingAndGlyphs">142.715</text>
<rect x="364" y="144" width="10" height="1" fill="#ff0000" shape-rendering="crispEdges"/>
<rect x="446.5" y="545.5" width="61" height="18" fill="#fff" stroke="#ff0000" stroke-width="1" shape-rendering="crispEdges"/>
<text x="447.6" y="561.1" font-size="16.2" fill="#ff0000" font-family="'DejaVu Sans','Liberation Sans',sans-serif" textLength="59.6" lengthAdjust="spacingAndGlyphs">133.049</text>
<rect x="508" y="554" width="10" height="1" fill="#ff0000" shape-rendering="crispEdges"/>
<rect x="790.5" y="240.5" width="61" height="18" fill="#fff" stroke="#ff0000" stroke-width="1" shape-rendering="crispEdges"/>
<text x="791.6" y="256.1" font-size="16.2" fill="#ff0000" font-family="'DejaVu Sans','Liberation Sans',sans-serif" textLength="59.6" lengthAdjust="spacingAndGlyphs">140.248</text>
<rect x="852" y="249" width="10" height="1" fill="#ff0000" shape-rendering="crispEdges"/>
<rect x="1062.5" y="380.5" width="61" height="18" fill="#fff" stroke="#ff0000" stroke-width="1" shape-rendering="crispEdges"/>
<text x="1063.6" y="396.1" font-size="16.2" fill="#ff0000" font-family="'DejaVu Sans','Liberation Sans',sans-serif" textLength="59.6" lengthAdjust="spacingAndGlyphs">136.933</text>
<rect x="1124" y="389" width="10" height="1" fill="#ff0000" shape-rendering="crispEdges"/>
<rect x="1238.5" y="233.5" width="61" height="18" fill="#fff" stroke="#ff0000" stroke-width="1" shape-rendering="crispEdges"/>
<text x="1239.6" y="249.1" font-size="16.2" fill="#ff0000" font-family="'DejaVu Sans','Liberation Sans',sans-serif" textLength="59.6" lengthAdjust="spacingAndGlyphs">140.407</text>
<rect x="1300" y="242" width="10" height="1" fill="#ff0000" shape-rendering="crispEdges"/>
<rect x="1320.5" y="58.5" width="73" height="24" fill="#fff" stroke="#ff0000" stroke-width="1" shape-rendering="crispEdges"/>
<text x="1320.8" y="78.7" font-size="20.6" fill="#ff0000" font-family="'DejaVu Sans','Liberation Sans',sans-serif" textLength="72.6" lengthAdjust="spacingAndGlyphs">144.455</text>
<g shape-rendering="crispEdges"><rect x="1310" y="70" width="8" height="1" fill="#ff0000"/><rect x="1317.5" y="68.5" width="3" height="4" fill="#fff" stroke="#ff0000"/></g>
<g shape-rendering="crispEdges">
<rect x="5" y="433" width="1" height="38" fill="#000"/>
<rect x="3" y="458" width="5" height="7" fill="#000"/>
<rect x="13" y="463" width="1" height="40" fill="#000"/>
<rect x="11" y="464" width="5" height="8" fill="#000"/>
<rect x="21" y="468" width="1" height="7" fill="#000"/>
<rect x="19" y="469" width="5" height="4" fill="#000"/>
<rect x="29" y="451" width="1" height="39" fill="#000"/>
<rect x="27" y="471" width="5" height="16" fill="#000"/>
<rect x="37" y="477" width="1" height="39" fill="#000"/>
<rect x="35" y="480" width="5" height="6" fill="#000"/>
<rect x="36" y="481" width="3" height="4" fill="#fff"/>
<rect x="45" y="468" width="1" height="27" fill="#000"/>
<rect x="43" y="481" width="5" height="9" fill="#000"/>
<rect x="53" y="465" width="1" height="48" fill="#000"/>
<rect x="51" y="483" width="5" height="7" fill="#000"/>
<rect x="52" y="484" width="3" height="5" fill="#fff"/>
<rect x="61" y="476" width="1" height="34" fill="#000"/>
<rect x="59" y="483" width="5" height="15" fill="#000"/>
<rect x="69" y="487" width="1" height="7" fill="#000"/>
<rect x="67" y="488" width="5" height="6" fill="#000"/>
<rect x="68" y="489" width="3" height="4" fill="#fff"/>
<rect x="77" y="433" width="1" height="67" fill="#000"/>
<rect x="75" y="441" width="5" height="48" fill="#000"/>
<rect x="76" y="442" width="3" height="46" fill="#fff"/>
<rect x="85" y="411" width="1" height="32" fill="#000"/>
<rect x="83" y="429" width="5" height="13" fill="#000"/>
<rect x="84" y="430" width="3" height="11" fill="#fff"/>
<rect x="93" y="403" width="1" height="58" fill="#000"/>
<rect x="91" y="412" width="5" height="18" fill="#000"/>
<rect x="92" y="413" width="3" height="16" fill="#fff"/>
<rect x="101" y="403" width="1" height="34" fill="#000"/>
<rect x="99" y="412" width="5" height="18" fill="#000"/>
<rect x="109" y="427" width="1" height="46" fill="#000"/>
<rect x="107" y="429" width="5" height="19" fill="#000"/>
<rect x="117" y="440" width="1" height="11" fill="#000"/>
<rect x="115" y="446" width="5" height="2" fill="#000"/>
<rect x="125" y="437" width="1" height="29" fill="#000"/>
<rect x="123" y="443" width="5" height="4" fill="#000"/>
<rect x="124" y="444" width="3" height="2" fill="#fff"/>
<rect x="133" y="424" width="1" height="35" fill="#000"/>
<rect x="131" y="436" width="5" height="8" fill="#000"/>
<rect x="132" y="437" width="3" height="6" fill="#fff"/>
<rect x="141" y="410" width="1" height="34" fill="#000"/>
<rect x="139" y="415" width="5" height="22" fill="#000"/>
<rect x="140" y="416" width="3" height="20" fill="#fff"/>
<rect x="149" y="371" width="1" height="57" fill="#000"/>
<rect x="147" y="374" width="5" height="41" fill="#000"/>
<rect x="148" y="375" width="3" height="39" fill="#fff"/>
<rect x="157" y="294" width="1" height="103" fill="#000"/>
<rect x="155" y="319" width="5" height="55" fill="#000"/>
<rect x="156" y="320" width="3" height="53" fill="#fff"/>
<rect x="165" y="315" width="1" height="8" fill="#000"/>
<rect x="163" y="316" width="5" height="5" fill="#000"/>
<rect x="164" y="317" width="3" height="3" fill="#fff"/>
<rect x="173" y="301" width="1" height="55" fill="#000"/>
<rect x="171" y="316" width="5" height="2" fill="#000"/>
<rect x="181" y="307" width="1" height="47" fill="#000"/>
<rect x="179" y="316" width="5" height="21" fill="#000"/>
<rect x="189" y="302" width="1" height="42" fill="#000"/>
<rect x="187" y="321" width="5" height="15" fill="#000"/>
<rect x="188" y="322" width="3" height="13" fill="#fff"/>
<rect x="197" y="292" width="1" height="35" fill="#000"/>
<rect x="195" y="314" width="5" height="8" fill="#000"/>
<rect x="196" y="315" width="3" height="6" fill="#fff"/>
<rect x="205" y="313" width="1" height="39" fill="#000"/>
<rect x="203" y="314" width="5" height="20" fill="#000"/>
<rect x="213" y="336" width="1" height="5" fill="#000"/>
<rect x="211" y="338" width="5" height="1" fill="#000"/>
<rect x="221" y="317" width="1" height="24" fill="#000"/>
<rect x="219" y="319" width="5" height="20" fill="#000"/>
<rect x="220" y="320" width="3" height="18" fill="#fff"/>
<rect x="229" y="281" width="1" height="40" fill="#000"/>
<rect x="227" y="303" width="5" height="17" fill="#000"/>
<rect x="228" y="304" width="3" height="15" fill="#fff"/>
<rect x="237" y="276" width="1" height="32" fill="#000"/>
<rect x="235" y="286" width="5" height="17" fill="#000"/>
<rect x="236" y="287" width="3" height="15" fill="#fff"/>
<rect x="245" y="251" width="1" height="40" fill="#000"/>
<rect x="243" y="268" width="5" height="19" fill="#000"/>
<rect x="244" y="269" width="3" height="17" fill="#fff"/>
<rect x="253" y="259" width="1" height="29" fill="#000"/>
<rect x="251" y="268" width="5" height="14" fill="#000"/>
<rect x="261" y="274" width="1" height="4" fill="#000"/>
<rect x="259" y="275" width="5" height="2" fill="#000"/>
<rect x="269" y="273" width="1" height="41" fill="#000"/>
<rect x="267" y="274" width="5" height="32" fill="#000"/>
<rect x="277" y="275" width="1" height="45" fill="#000"/>
<rect x="275" y="282" width="5" height="24" fill="#000"/>
<rect x="276" y="283" width="3" height="22" fill="#fff"/>
<rect x="285" y="262" width="1" height="50" fill="#000"/>
<rect x="283" y="282" width="5" height="18" fill="#000"/>
<rect x="293" y="265" width="1" height="56" fill="#000"/>
<rect x="291" y="273" width="5" height="27" fill="#000"/>
<rect x="292" y="274" width="3" height="25" fill="#fff"/>
<rect x="301" y="262" width="1" height="73" fill="#000"/>
<rect x="299" y="273" width="5" height="49" fill="#000"/>
<rect x="309" y="315" width="1" height="4" fill="#000"/>
<rect x="307" y="315" width="5" height="4" fill="#000"/>
<rect x="317" y="302" width="1" height="31" fill="#000"/>
<rect x="315" y="318" width="5" height="4" fill="#000"/>
<rect x="325" y="258" width="1" height="69" fill="#000"/>
<rect x="323" y="264" width="5" height="58" fill="#000"/>
<rect x="324" y="265" width="3" height="56" fill="#fff"/>
<rect x="333" y="247" width="1" height="29" fill="#000"/>
<rect x="331" y="262" width="5" height="2" fill="#000"/>
<rect x="341" y="223" width="1" height="51" fill="#000"/>
<rect x="339" y="228" width="5" height="34" fill="#000"/>
<rect x="340" y="229" width="3" height="32" fill="#fff"/>
<rect x="349" y="191" width="1" height="69" fill="#000"/>
<rect x="347" y="228" width="5" height="5" fill="#000"/>
<rect x="357" y="218" width="1" height="8" fill="#000"/>
<rect x="355" y="218" width="5" height="2" fill="#000"/>
<rect x="365" y="173" width="1" height="66" fill="#000"/>
<rect x="363" y="190" width="5" height="30" fill="#000"/>
<rect x="364" y="191" width="3" height="28" fill="#fff"/>
<rect x="373" y="144" width="1" height="60" fill="#000"/>
<rect x="371" y="180" width="5" height="10" fill="#000"/>
<rect x="372" y="181" width="3" height="8" fill="#fff"/>
<rect x="381" y="176" width="1" height="41" fill="#000"/>
<rect x="379" y="180" width="5" height="6" fill="#000"/>
<rect x="389" y="184" width="1" height="56" fill="#000"/>
<rect x="387" y="185" width="5" height="44" fill="#000"/>
<rect x="397" y="199" width="1" height="57" fill="#000"/>
<rect x="395" y="211" width="5" height="18" fill="#000"/>
<rect x="396" y="212" width="3" height="16" fill="#fff"/>
<rect x="405" y="222" width="1" height="7" fill="#000"/>
<rect x="403" y="225" width="5" height="1" fill="#000"/>
<rect x="413" y="217" width="1" height="61" fill="#000"/>
<rect x="411" y="225" width="5" height="40" fill="#000"/>
<rect x="421" y="263" width="1" height="122" fill="#000"/>
<rect x="419" y="264" width="5" height="108" fill="#000"/>
<rect x="429" y="329" width="1" height="70" fill="#000"/>
<rect x="427" y="341" width="5" height="29" fill="#000"/>
<rect x="428" y="342" width="3" height="27" fill="#fff"/>
<rect x="437" y="329" width="1" height="119" fill="#000"/>
<rect x="435" y="341" width="5" height="92" fill="#000"/>
<rect x="445" y="404" width="1" height="44" fill="#000"/>
<rect x="443" y="431" width="5" height="11" fill="#000"/>
<rect x="453" y="432" width="1" height="5" fill="#000"/>
<rect x="451" y="432" width="5" height="3" fill="#000"/>
<rect x="452" y="433" width="3" height="1" fill="#fff"/>
<rect x="461" y="404" width="1" height="36" fill="#000"/>
<rect x="459" y="432" width="5" height="5" fill="#000"/>
<rect x="469" y="411" width="1" height="44" fill="#000"/>
<rect x="467" y="436" width="5" height="3" fill="#000"/>
<rect x="477" y="409" width="1" height="40" fill="#000"/>
<rect x="475" y="422" width="5" height="17" fill="#000"/>
<rect x="476" y="423" width="3" height="15" fill="#fff"/>
<rect x="485" y="422" width="1" height="69" fill="#000"/>
<rect x="483" y="423" width="5" height="14" fill="#000"/>
<rect x="493" y="422" width="1" height="53" fill="#000"/>
<rect x="491" y="435" width="5" height="32" fill="#000"/>
<rect x="501" y="462" width="1" height="6" fill="#000"/>
<rect x="499" y="464" width="5" height="3" fill="#000"/>
<rect x="500" y="465" width="3" height="1" fill="#fff"/>
<rect x="509" y="458" width="1" height="77" fill="#000"/>
<rect x="507" y="464" width="5" height="43" fill="#000"/>
<rect x="517" y="498" width="1" height="56" fill="#000"/>
<rect x="515" y="506" width="5" height="14" fill="#000"/>
<rect x="525" y="488" width="1" height="64" fill="#000"/>
<rect x="523" y="519" width="5" height="1" fill="#000"/>
<rect x="533" y="486" width="1" height="46" fill="#000"/>
<rect x="531" y="493" width="5" height="26" fill="#000"/>
<rect x="532" y="494" width="3" height="24" fill="#fff"/>
<rect x="541" y="479" width="1" height="43" fill="#000"/>
<rect x="539" y="494" width="5" height="4" fill="#000"/>
<rect x="549" y="480" width="1" height="7" fill="#000"/>
<rect x="547" y="482" width="5" height="4" fill="#000"/>
<rect x="548" y="483" width="3" height="2" fill="#fff"/>
<rect x="557" y="420" width="1" height="80" fill="#000"/>
<rect x="555" y="440" width="5" height="42" fill="#000"/>
<rect x="556" y="441" width="3" height="40" fill="#fff"/>
<rect x="565" y="419" width="1" height="35" fill="#000"/>
<rect x="563" y="432" width="5" height="10" fill="#000"/>
<rect x="564" y="433" width="3" height="8" fill="#fff"/>
<rect x="573" y="406" width="1" height="59" fill="#000"/>
<rect x="571" y="421" width="5" height="11" fill="#000"/>
<rect x="572" y="422" width="3" height="9" fill="#fff"/>
<rect x="581" y="386" width="1" height="71" fill="#000"/>
<rect x="579" y="420" width="5" height="10" fill="#000"/>
<rect x="589" y="413" width="1" height="57" fill="#000"/>
<rect x="587" y="416" width="5" height="14" fill="#000"/>
<rect x="588" y="417" width="3" height="12" fill="#fff"/>
<rect x="597" y="407" width="1" height="7" fill="#000"/>
<rect x="595" y="411" width="5" height="2" fill="#000"/>
<rect x="605" y="369" width="1" height="52" fill="#000"/>
<rect x="603" y="372" width="5" height="39" fill="#000"/>
<rect x="604" y="373" width="3" height="37" fill="#fff"/>
<rect x="613" y="368" width="1" height="67" fill="#000"/>
<rect x="611" y="372" width="5" height="54" fill="#000"/>
<rect x="621" y="387" width="1" height="45" fill="#000"/>
<rect x="619" y="392" width="5" height="33" fill="#000"/>
<rect x="620" y="393" width="3" height="31" fill="#fff"/>
<rect x="629" y="370" width="1" height="31" fill="#000"/>
<rect x="627" y="380" width="5" height="12" fill="#000"/>
<rect x="628" y="381" width="3" height="10" fill="#fff"/>
<rect x="637" y="354" width="1" height="42" fill="#000"/>
<rect x="635" y="357" width="5" height="23" fill="#000"/>
<rect x="636" y="358" width="3" height="21" fill="#fff"/>
<rect x="645" y="356" width="1" height="6" fill="#000"/>
<rect x="643" y="357" width="5" height="4" fill="#000"/>
<rect x="653" y="356" width="1" height="23" fill="#000"/>
<rect x="651" y="360" width="5" height="2" fill="#000"/>
<rect x="661" y="354" width="1" height="61" fill="#000"/>
<rect x="659" y="360" width="5" height="53" fill="#000"/>
<rect x="669" y="373" width="1" height="72" fill="#000"/>
<rect x="667" y="395" width="5" height="17" fill="#000"/>
<rect x="668" y="396" width="3" height="15" fill="#fff"/>
<rect x="677" y="380" width="1" height="60" fill="#000"/>
<rect x="675" y="395" width="5" height="37" fill="#000"/>
<rect x="685" y="412" width="1" height="44" fill="#000"/>
<rect x="683" y="418" width="5" height="14" fill="#000"/>
<rect x="684" y="419" width="3" height="12" fill="#fff"/>
<rect x="693" y="415" width="1" height="9" fill="#000"/>
<rect x="691" y="418" width="5" height="5" fill="#000"/>
<rect x="692" y="419" width="3" height="3" fill="#fff"/>
<rect x="701" y="376" width="1" height="44" fill="#000"/>
<rect x="699" y="406" width="5" height="12" fill="#000"/>
<rect x="700" y="407" width="3" height="10" fill="#fff"/>
<rect x="709" y="386" width="1" height="30" fill="#000"/>
<rect x="707" y="402" width="5" height="6" fill="#000"/>
<rect x="708" y="403" width="3" height="4" fill="#fff"/>
<rect x="717" y="359" width="1" height="48" fill="#000"/>
<rect x="715" y="368" width="5" height="34" fill="#000"/>
<rect x="716" y="369" width="3" height="32" fill="#fff"/>
<rect x="725" y="362" width="1" height="27" fill="#000"/>
<rect x="723" y="369" width="5" height="11" fill="#000"/>
<rect x="733" y="373" width="1" height="42" fill="#000"/>
<rect x="731" y="379" width="5" height="29" fill="#000"/>
<rect x="741" y="401" width="1" height="6" fill="#000"/>
<rect x="739" y="402" width="5" height="5" fill="#000"/>
<rect x="740" y="403" width="3" height="3" fill="#fff"/>
<rect x="749" y="384" width="1" height="34" fill="#000"/>
<rect x="747" y="402" width="5" height="10" fill="#000"/>
<rect x="757" y="404" width="1" height="21" fill="#000"/>
<rect x="755" y="411" width="5" height="9" fill="#000"/>
<rect x="765" y="419" width="1" height="59" fill="#000"/>
<rect x="763" y="420" width="5" height="32" fill="#000"/>
<rect x="773" y="432" width="1" height="56" fill="#000"/>
<rect x="771" y="451" width="5" height="13" fill="#000"/>
<rect x="781" y="438" width="1" height="60" fill="#000"/>
<rect x="779" y="445" width="5" height="18" fill="#000"/>
<rect x="780" y="446" width="3" height="16" fill="#fff"/>
<rect x="789" y="453" width="1" height="14" fill="#000"/>
<rect x="787" y="458" width="5" height="8" fill="#000"/>
<rect x="797" y="454" width="1" height="24" fill="#000"/>
<rect x="795" y="459" width="5" height="4" fill="#000"/>
<rect x="796" y="460" width="3" height="2" fill="#fff"/>
<rect x="805" y="371" width="1" height="95" fill="#000"/>
<rect x="803" y="381" width="5" height="77" fill="#000"/>
<rect x="804" y="382" width="3" height="75" fill="#fff"/>
<rect x="813" y="373" width="1" height="93" fill="#000"/>
<rect x="811" y="380" width="5" height="75" fill="#000"/>
<rect x="821" y="417" width="1" height="53" fill="#000"/>
<rect x="819" y="424" width="5" height="32" fill="#000"/>
<rect x="820" y="425" width="3" height="30" fill="#fff"/>
<rect x="829" y="421" width="1" height="32" fill="#000"/>
<rect x="827" y="425" width="5" height="11" fill="#000"/>
<rect x="837" y="423" width="1" height="12" fill="#000"/>
<rect x="835" y="427" width="5" height="5" fill="#000"/>
<rect x="836" y="428" width="3" height="3" fill="#fff"/>
<rect x="845" y="306" width="1" height="123" fill="#000"/>
<rect x="843" y="325" width="5" height="102" fill="#000"/>
<rect x="844" y="326" width="3" height="100" fill="#fff"/>
<rect x="853" y="270" width="1" height="69" fill="#000"/>
<rect x="851" y="278" width="5" height="48" fill="#000"/>
<rect x="852" y="279" width="3" height="46" fill="#fff"/>
<rect x="861" y="248" width="1" height="46" fill="#000"/>
<rect x="859" y="278" width="5" height="9" fill="#000"/>
<rect x="869" y="285" width="1" height="71" fill="#000"/>
<rect x="867" y="285" width="5" height="65" fill="#000"/>
<rect x="877" y="323" width="1" height="42" fill="#000"/>
<rect x="875" y="348" width="5" height="4" fill="#000"/>
<rect x="885" y="327" width="1" height="20" fill="#000"/>
<rect x="883" y="329" width="5" height="16" fill="#000"/>
<rect x="884" y="330" width="3" height="14" fill="#fff"/>
<rect x="893" y="308" width="1" height="52" fill="#000"/>
<rect x="891" y="329" width="5" height="8" fill="#000"/>
<rect x="901" y="329" width="1" height="24" fill="#000"/>
<rect x="899" y="336" width="5" height="5" fill="#000"/>
<rect x="909" y="337" width="1" height="23" fill="#000"/>
<rect x="907" y="341" width="5" height="18" fill="#000"/>
<rect x="917" y="344" width="1" height="36" fill="#000"/>
<rect x="915" y="360" width="5" height="6" fill="#000"/>
<rect x="925" y="342" width="1" height="25" fill="#000"/>
<rect x="923" y="350" width="5" height="16" fill="#000"/>
<rect x="924" y="351" width="3" height="14" fill="#fff"/>
<rect x="933" y="339" width="1" height="6" fill="#000"/>
<rect x="931" y="340" width="5" height="5" fill="#000"/>
<rect x="932" y="341" width="3" height="3" fill="#fff"/>
<rect x="941" y="288" width="1" height="54" fill="#000"/>
<rect x="939" y="290" width="5" height="50" fill="#000"/>
<rect x="940" y="291" width="3" height="48" fill="#fff"/>
<rect x="949" y="267" width="1" height="31" fill="#000"/>
<rect x="947" y="275" width="5" height="15" fill="#000"/>
<rect x="948" y="276" width="3" height="13" fill="#fff"/>
<rect x="957" y="266" width="1" height="37" fill="#000"/>
<rect x="955" y="272" width="5" height="4" fill="#000"/>
<rect x="956" y="273" width="3" height="2" fill="#fff"/>
<rect x="965" y="269" width="1" height="37" fill="#000"/>
<rect x="963" y="272" width="5" height="21" fill="#000"/>
<rect x="973" y="293" width="1" height="39" fill="#000"/>
<rect x="971" y="293" width="5" height="36" fill="#000"/>
<rect x="981" y="307" width="1" height="14" fill="#000"/>
<rect x="979" y="312" width="5" height="7" fill="#000"/>
<rect x="980" y="313" width="3" height="5" fill="#fff"/>
<rect x="989" y="282" width="1" height="46" fill="#000"/>
<rect x="987" y="298" width="5" height="14" fill="#000"/>
<rect x="988" y="299" width="3" height="12" fill="#fff"/>
<rect x="997" y="247" width="1" height="58" fill="#000"/>
<rect x="995" y="260" width="5" height="38" fill="#000"/>
<rect x="996" y="261" width="3" height="36" fill="#fff"/>
<rect x="1005" y="241" width="1" height="67" fill="#000"/>
<rect x="1003" y="260" width="5" height="17" fill="#000"/>
<rect x="1013" y="248" width="1" height="33" fill="#000"/>
<rect x="1011" y="274" width="5" height="2" fill="#000"/>
<rect x="1021" y="230" width="1" height="55" fill="#000"/>
<rect x="1019" y="263" width="5" height="11" fill="#000"/>
<rect x="1020" y="264" width="3" height="9" fill="#fff"/>
<rect x="1029" y="265" width="1" height="5" fill="#000"/>
<rect x="1027" y="268" width="5" height="2" fill="#000"/>
<rect x="1037" y="267" width="1" height="83" fill="#000"/>
<rect x="1035" y="269" width="5" height="39" fill="#000"/>
<rect x="1045" y="287" width="1" height="41" fill="#000"/>
<rect x="1043" y="296" width="5" height="10" fill="#000"/>
<rect x="1044" y="297" width="3" height="8" fill="#fff"/>
<rect x="1053" y="246" width="1" height="51" fill="#000"/>
<rect x="1051" y="286" width="5" height="10" fill="#000"/>
<rect x="1052" y="287" width="3" height="8" fill="#fff"/>
<rect x="1061" y="274" width="1" height="55" fill="#000"/>
<rect x="1059" y="286" width="5" height="34" fill="#000"/>
<rect x="1069" y="318" width="1" height="79" fill="#000"/>
<rect x="1067" y="321" width="5" height="43" fill="#000"/>
<rect x="1077" y="316" width="1" height="15" fill="#000"/>
<rect x="1075" y="324" width="5" height="3" fill="#000"/>
<rect x="1085" y="284" width="1" height="50" fill="#000"/>
<rect x="1083" y="320" width="5" height="6" fill="#000"/>
<rect x="1084" y="321" width="3" height="4" fill="#fff"/>
<rect x="1093" y="276" width="1" height="58" fill="#000"/>
<rect x="1091" y="286" width="5" height="33" fill="#000"/>
<rect x="1092" y="287" width="3" height="31" fill="#fff"/>
<rect x="1101" y="257" width="1" height="40" fill="#000"/>
<rect x="1099" y="272" width="5" height="15" fill="#000"/>
<rect x="1100" y="273" width="3" height="13" fill="#fff"/>
<rect x="1109" y="241" width="1" height="38" fill="#000"/>
<rect x="1107" y="262" width="5" height="11" fill="#000"/>
<rect x="1108" y="263" width="3" height="9" fill="#fff"/>
<rect x="1117" y="246" width="1" height="43" fill="#000"/>
<rect x="1115" y="261" width="5" height="19" fill="#000"/>
<rect x="1125" y="305" width="1" height="20" fill="#000"/>
<rect x="1123" y="311" width="5" height="6" fill="#000"/>
<rect x="1133" y="281" width="1" height="108" fill="#000"/>
<rect x="1131" y="304" width="5" height="11" fill="#000"/>
<rect x="1132" y="305" width="3" height="9" fill="#fff"/>
<rect x="1141" y="297" width="1" height="49" fill="#000"/>
<rect x="1139" y="304" width="5" height="10" fill="#000"/>
<rect x="1149" y="247" width="1" height="76" fill="#000"/>
<rect x="1147" y="265" width="5" height="50" fill="#000"/>
<rect x="1148" y="266" width="3" height="48" fill="#fff"/>
<rect x="1157" y="208" width="1" height="58" fill="#000"/>
<rect x="1155" y="244" width="5" height="22" fill="#000"/>
<rect x="1156" y="245" width="3" height="20" fill="#fff"/>
<rect x="1165" y="238" width="1" height="12" fill="#000"/>
<rect x="1163" y="240" width="5" height="10" fill="#000"/>
<rect x="1164" y="241" width="3" height="8" fill="#fff"/>
<rect x="1173" y="235" width="1" height="48" fill="#000"/>
<rect x="1171" y="239" width="5" height="35" fill="#000"/>
<rect x="1181" y="253" width="1" height="24" fill="#000"/>
<rect x="1179" y="270" width="5" height="4" fill="#000"/>
<rect x="1180" y="271" width="3" height="2" fill="#fff"/>
<rect x="1189" y="232" width="1" height="41" fill="#000"/>
<rect x="1187" y="236" width="5" height="34" fill="#000"/>
<rect x="1188" y="237" width="3" height="32" fill="#fff"/>
<rect x="1197" y="207" width="1" height="38" fill="#000"/>
<rect x="1195" y="218" width="5" height="18" fill="#000"/>
<rect x="1196" y="219" width="3" height="16" fill="#fff"/>
<rect x="1205" y="204" width="1" height="18" fill="#000"/>
<rect x="1203" y="207" width="5" height="15" fill="#000"/>
<rect x="1204" y="208" width="3" height="13" fill="#fff"/>
<rect x="1213" y="206" width="1" height="68" fill="#000"/>
<rect x="1211" y="207" width="5" height="56" fill="#000"/>
<rect x="1221" y="253" width="1" height="28" fill="#000"/>
<rect x="1219" y="261" width="5" height="3" fill="#000"/>
<rect x="1229" y="236" width="1" height="32" fill="#000"/>
<rect x="1227" y="245" width="5" height="19" fill="#000"/>
<rect x="1228" y="246" width="3" height="17" fill="#fff"/>
<rect x="1237" y="218" width="1" height="38" fill="#000"/>
<rect x="1235" y="224" width="5" height="22" fill="#000"/>
<rect x="1236" y="225" width="3" height="20" fill="#fff"/>
<rect x="1245" y="202" width="1" height="27" fill="#000"/>
<rect x="1243" y="221" width="5" height="3" fill="#000"/>
<rect x="1244" y="222" width="3" height="1" fill="#fff"/>
<rect x="1253" y="221" width="1" height="14" fill="#000"/>
<rect x="1251" y="228" width="5" height="2" fill="#000"/>
<rect x="1261" y="220" width="1" height="18" fill="#000"/>
<rect x="1259" y="226" width="5" height="4" fill="#000"/>
<rect x="1260" y="227" width="3" height="2" fill="#fff"/>
<rect x="1269" y="174" width="1" height="55" fill="#000"/>
<rect x="1267" y="184" width="5" height="42" fill="#000"/>
<rect x="1268" y="185" width="3" height="40" fill="#fff"/>
<rect x="1277" y="164" width="1" height="32" fill="#000"/>
<rect x="1275" y="184" width="5" height="5" fill="#000"/>
<rect x="1285" y="165" width="1" height="27" fill="#000"/>
<rect x="1283" y="172" width="5" height="17" fill="#000"/>
<rect x="1284" y="173" width="3" height="15" fill="#fff"/>
<rect x="1293" y="170" width="1" height="50" fill="#000"/>
<rect x="1291" y="172" width="5" height="45" fill="#000"/>
<rect x="1301" y="209" width="1" height="13" fill="#000"/>
<rect x="1299" y="218" width="5" height="3" fill="#000"/>
<rect x="1300" y="219" width="3" height="1" fill="#fff"/>
<rect x="1309" y="214" width="1" height="32" fill="#000"/>
<rect x="1307" y="216" width="5" height="8" fill="#000"/>
<rect x="1317" y="184" width="1" height="41" fill="#000"/>
<rect x="1315" y="185" width="5" height="40" fill="#000"/>
<rect x="1316" y="186" width="3" height="38" fill="#fff"/>
<rect x="1325" y="161" width="1" height="54" fill="#000"/>
<rect x="1323" y="185" width="5" height="11" fill="#000"/>
<rect x="1333" y="166" width="1" height="34" fill="#000"/>
<rect x="1331" y="171" width="5" height="24" fill="#000"/>
<rect x="1332" y="172" width="3" height="22" fill="#fff"/>
<rect x="1341" y="163" width="1" height="34" fill="#000"/>
<rect x="1339" y="171" width="5" height="1" fill="#000"/>
<rect x="1349" y="172" width="1" height="6" fill="#000"/>
<rect x="1347" y="173" width="5" height="5" fill="#000"/>
<rect x="1348" y="174" width="3" height="3" fill="#fff"/>
<rect x="1357" y="161" width="1" height="30" fill="#000"/>
<rect x="1355" y="173" width="5" height="7" fill="#000"/>
<rect x="1365" y="156" width="1" height="50" fill="#000"/>
<rect x="1363" y="160" width="5" height="20" fill="#000"/>
<rect x="1364" y="161" width="3" height="18" fill="#fff"/>
<rect x="1373" y="139" width="1" height="28" fill="#000"/>
<rect x="1371" y="159" width="5" height="2" fill="#000"/>
<rect x="1381" y="121" width="1" height="47" fill="#000"/>
<rect x="1379" y="126" width="5" height="34" fill="#000"/>
<rect x="1380" y="127" width="3" height="32" fill="#fff"/>
<rect x="1389" y="92" width="1" height="42" fill="#000"/>
<rect x="1387" y="111" width="5" height="15" fill="#000"/>
<rect x="1388" y="112" width="3" height="13" fill="#fff"/>
<rect x="1397" y="107" width="1" height="11" fill="#000"/>
<rect x="1395" y="108" width="5" height="6" fill="#000"/>
<rect x="1405" y="86" width="1" height="36" fill="#000"/>
<rect x="1403" y="114" width="5" height="2" fill="#000"/>
<rect x="1413" y="100" width="1" height="28" fill="#000"/>
<rect x="1411" y="113" width="5" height="2" fill="#000"/>
<rect x="1421" y="103" width="1" height="26" fill="#000"/>
<rect x="1419" y="113" width="5" height="7" fill="#000"/>
<rect x="1429" y="74" width="1" height="66" fill="#000"/>
<rect x="1427" y="75" width="5" height="45" fill="#000"/>
<rect x="1428" y="76" width="3" height="43" fill="#fff"/>
<rect x="1437" y="52" width="1" height="28" fill="#000"/>
<rect x="1435" y="58" width="5" height="17" fill="#000"/>
<rect x="1436" y="59" width="3" height="15" fill="#fff"/>
</g>
<line x1="1123.4" y1="369.6" x2="1452" y2="61.4" stroke="#ff0000" stroke-width="3.3"/>
<polygon points="1447,59.2 1456.5,54 1459.3,56 1452.7,65.8" fill="#ff0000"/>
<rect x="1408" y="69" width="88" height="5" fill="#00ff00" shape-rendering="crispEdges"/>
<rect x="1502.5" y="72.5" width="110" height="24" fill="none" stroke="#404040" stroke-width="1" shape-rendering="crispEdges"/>
<text x="1501.8" y="90.6" font-size="20" font-weight="300" fill="#22ff00" textLength="110" lengthAdjust="spacing">多空转折点</text>
</g>
<g fill="#c0c0c0" shape-rendering="crispEdges"><rect x="1445" y="21" width="9" height="1"/><rect x="1446" y="22" width="7" height="1"/><rect x="1447" y="23" width="5" height="1"/><rect x="1448" y="24" width="3" height="1"/><rect x="1449" y="25" width="1" height="1"/></g>
<polygon points="1,31 4.2,26.3 7.4,31" fill="#000"/>
<text x="12.5" y="32" class="s" font-size="9" fill="#000" textLength="210" lengthAdjust="spacingAndGlyphs" xml:space="preserve">GBPJPY ,Daily  144.327 144.872 144.238 144.729</text>
<g shape-rendering="crispEdges">
<rect x="0" y="34" width="221" height="71" fill="#fff"/>
<path d="M0,40 H52 V64 H109 V104 H0 Z" fill="#b00000"/>
<rect x="1" y="41" width="50" height="24" fill="url(#gbtn)"/>
<rect x="1" y="65" width="107" height="38" fill="url(#gprice)"/>
<rect x="4" y="63" width="44" height="1" fill="#a00000"/><rect x="4" y="64" width="44" height="1" fill="#f87070"/>
<path d="M219,40 H167 V64 H111 V104 H219 Z" fill="#b00000"/>
<rect x="168" y="41" width="50" height="24" fill="url(#gbtn)"/>
<rect x="112" y="65" width="106" height="38" fill="url(#gprice)"/>
<rect x="171" y="63" width="44" height="1" fill="#a00000"/><rect x="171" y="64" width="44" height="1" fill="#f87070"/>
<rect x="54.5" y="40.5" width="110" height="21" fill="#fff" stroke="#a6a9b4"/>
<rect x="55.5" y="41.5" width="19" height="19" fill="url(#gspin)" stroke="#dcdcdc"/>
<rect x="75" y="41" width="1" height="20" fill="#a6a9b4"/>
<rect x="144.5" y="41.5" width="19" height="19" fill="url(#gspin)" stroke="#dcdcdc"/>
<rect x="143" y="41" width="1" height="20" fill="#a6a9b4"/>
</g>
<polygon points="62,49 67,49 64.5,52" fill="#4a5fc0"/>
<polygon points="151,52 156,52 153.5,49" fill="#4a5fc0"/>
<text x="12.5" y="56" font-size="12" fill="#fff0f0" textLength="26" lengthAdjust="spacingAndGlyphs">SELL</text>
<text x="180.5" y="56" font-size="12" fill="#fff0f0" textLength="24" lengthAdjust="spacingAndGlyphs">BUY</text>
<text x="139.5" y="55" font-size="12" fill="#000" text-anchor="end">1.00</text>
<text x="23.5" y="95" font-size="11.5" font-weight="bold" fill="#fff" textLength="20" lengthAdjust="spacingAndGlyphs">144</text>
<text x="46.6" y="95.2" font-size="35" fill="#fff" stroke="#cf2020" stroke-width="0.7" paint-order="fill stroke" textLength="36" lengthAdjust="spacingAndGlyphs">72</text>
<text x="87.2" y="79" font-size="11.3" font-weight="bold" fill="#fff">9</text>
<text x="133.5" y="95" font-size="11.5" font-weight="bold" fill="#fff" textLength="20" lengthAdjust="spacingAndGlyphs">144</text>
<text x="157.4" y="95" font-size="35" fill="#fff" stroke="#cf2020" stroke-width="0.7" paint-order="fill stroke" textLength="36.5" lengthAdjust="spacingAndGlyphs">76</text>
<text x="198" y="79" font-size="11.3" font-weight="bold" fill="#fff">7</text>
<g shape-rendering="crispEdges">
<rect x="1688" y="75" width="2" height="1" fill="#000"/>
<rect x="1688" y="108" width="2" height="1" fill="#000"/>
<rect x="1688" y="141" width="2" height="1" fill="#000"/>
<rect x="1688" y="174" width="2" height="1" fill="#000"/>
<rect x="1688" y="207" width="2" height="1" fill="#000"/>
<rect x="1688" y="240" width="2" height="1" fill="#000"/>
<rect x="1688" y="273" width="2" height="1" fill="#000"/>
<rect x="1688" y="306" width="2" height="1" fill="#000"/>
<rect x="1688" y="339" width="2" height="1" fill="#000"/>
<rect x="1688" y="372" width="2" height="1" fill="#000"/>
<rect x="1688" y="405" width="2" height="1" fill="#000"/>
<rect x="1688" y="438" width="2" height="1" fill="#000"/>
<rect x="1688" y="471" width="2" height="1" fill="#000"/>
<rect x="1688" y="504" width="2" height="1" fill="#000"/>
<rect x="1688" y="537" width="2" height="1" fill="#000"/>
<rect x="1688" y="570" width="2" height="1" fill="#000"/>
<rect x="1688" y="653" width="2" height="1" fill="#000"/>
<rect x="1688" y="783" width="2" height="1" fill="#000"/>
<rect x="1688" y="834" width="2" height="1" fill="#000"/>
<rect x="1688" y="895" width="2" height="1" fill="#000"/>
</g>
<text x="1693.1" y="78.7" class="s" font-size="9" fill="#000" textLength="33.7" lengthAdjust="spacingAndGlyphs">144.330</text>
<text x="1693.1" y="111.7" class="s" font-size="9" fill="#000" textLength="33.7" lengthAdjust="spacingAndGlyphs">143.550</text>
<text x="1693.1" y="144.7" class="s" font-size="9" fill="#000" textLength="33.7" lengthAdjust="spacingAndGlyphs">142.790</text>
<text x="1693.1" y="177.7" class="s" font-size="9" fill="#000" textLength="33.7" lengthAdjust="spacingAndGlyphs">142.010</text>
<text x="1693.1" y="210.7" class="s" font-size="9" fill="#000" textLength="33.7" lengthAdjust="spacingAndGlyphs">141.230</text>
<text x="1693.1" y="243.7" class="s" font-size="9" fill="#000" textLength="33.7" lengthAdjust="spacingAndGlyphs">140.450</text>
<text x="1693.1" y="276.7" class="s" font-size="9" fill="#000" textLength="33.7" lengthAdjust="spacingAndGlyphs">139.670</text>
<text x="1693.1" y="309.7" class="s" font-size="9" fill="#000" textLength="33.7" lengthAdjust="spacingAndGlyphs">138.890</text>
<text x="1693.1" y="342.7" class="s" font-size="9" fill="#000" textLength="33.7" lengthAdjust="spacingAndGlyphs">138.110</text>
<text x="1693.1" y="375.7" class="s" font-size="9" fill="#000" textLength="33.7" lengthAdjust="spacingAndGlyphs">137.330</text>
<text x="1693.1" y="408.7" class="s" font-size="9" fill="#000" textLength="33.7" lengthAdjust="spacingAndGlyphs">136.550</text>
<text x="1693.1" y="441.7" class="s" font-size="9" fill="#000" textLength="33.7" lengthAdjust="spacingAndGlyphs">135.770</text>
<text x="1693.1" y="474.7" class="s" font-size="9" fill="#000" textLength="33.7" lengthAdjust="spacingAndGlyphs">135.010</text>
<text x="1693.1" y="507.7" class="s" font-size="9" fill="#000" textLength="33.7" lengthAdjust="spacingAndGlyphs">134.230</text>
<text x="1693.1" y="540.7" class="s" font-size="9" fill="#000" textLength="33.7" lengthAdjust="spacingAndGlyphs">133.450</text>
<text x="1693.1" y="573.7" class="s" font-size="9" fill="#000" textLength="33.7" lengthAdjust="spacingAndGlyphs">132.670</text>
<rect x="1689" y="23" width="41" height="11" fill="#ff0000" shape-rendering="crispEdges"/>
<text x="1693.1" y="32" font-size="9" fill="#fff" textLength="33.7" lengthAdjust="spacingAndGlyphs">145.424</text>
<rect x="1689" y="35" width="41" height="11" fill="#ff0000" shape-rendering="crispEdges"/>
<text x="1693.1" y="44" font-size="9" fill="#fff" textLength="33.7" lengthAdjust="spacingAndGlyphs">145.146</text>
<rect x="1689" y="53" width="41" height="11" fill="#000000" shape-rendering="crispEdges"/>
<text x="1693.1" y="62" font-size="9" fill="#fff" textLength="33.7" lengthAdjust="spacingAndGlyphs">144.729</text>
<rect x="1689" y="64" width="41" height="11" fill="#32cd32" shape-rendering="crispEdges"/>
<text x="1693.1" y="73" font-size="9" fill="#fff" textLength="33.7" lengthAdjust="spacingAndGlyphs">144.455</text>
<rect x="1689" y="82" width="41" height="11" fill="#0000ff" shape-rendering="crispEdges"/>
<text x="1693.1" y="91" font-size="9" fill="#fff" textLength="33.7" lengthAdjust="spacingAndGlyphs">144.040</text>
<rect x="1689" y="95" width="41" height="11" fill="#0000ff" shape-rendering="crispEdges"/>
<text x="1693.1" y="104" font-size="9" fill="#fff" textLength="33.7" lengthAdjust="spacingAndGlyphs">143.715</text>
<text x="1690.7" y="586" class="s" font-size="9" fill="#000">1.2152</text>
<text x="1690.7" y="657" class="s" font-size="9" fill="#000">0.00</text>
<text x="1690.7" y="741.9" class="s" font-size="9" fill="#000">-1.4437</text>
<text x="1690.2" y="757.7" class="s" font-size="9" fill="#000">100</text>
<text x="1690.2" y="787" class="s" font-size="9" fill="#000">80</text>
<text x="1690.2" y="838" class="s" font-size="9" fill="#000">50</text>
<text x="1690.2" y="899" class="s" font-size="9" fill="#000">15</text>
<text x="1690.2" y="918" class="s" font-size="9" fill="#000">0</text>
<g shape-rendering="crispEdges">
<rect x="5" y="640" width="1" height="14" fill="#c0c0c0"/>
<rect x="13" y="637" width="1" height="17" fill="#c0c0c0"/>
<rect x="21" y="635" width="1" height="19" fill="#c0c0c0"/>
<rect x="29" y="636" width="1" height="18" fill="#c0c0c0"/>
<rect x="37" y="636" width="1" height="18" fill="#c0c0c0"/>
<rect x="45" y="637" width="1" height="17" fill="#c0c0c0"/>
<rect x="53" y="638" width="1" height="16" fill="#c0c0c0"/>
<rect x="61" y="640" width="1" height="14" fill="#c0c0c0"/>
<rect x="69" y="640" width="1" height="14" fill="#c0c0c0"/>
<rect x="77" y="636" width="1" height="18" fill="#c0c0c0"/>
<rect x="85" y="631" width="1" height="23" fill="#c0c0c0"/>
<rect x="93" y="625" width="1" height="29" fill="#c0c0c0"/>
<rect x="101" y="623" width="1" height="31" fill="#c0c0c0"/>
<rect x="109" y="624" width="1" height="30" fill="#c0c0c0"/>
<rect x="117" y="625" width="1" height="29" fill="#c0c0c0"/>
<rect x="125" y="625" width="1" height="29" fill="#c0c0c0"/>
<rect x="133" y="625" width="1" height="29" fill="#c0c0c0"/>
<rect x="141" y="623" width="1" height="31" fill="#c0c0c0"/>
<rect x="149" y="617" width="1" height="37" fill="#c0c0c0"/>
<rect x="157" y="606" width="1" height="48" fill="#c0c0c0"/>
<rect x="165" y="598" width="1" height="56" fill="#c0c0c0"/>
<rect x="173" y="592" width="1" height="62" fill="#c0c0c0"/>
<rect x="181" y="590" width="1" height="64" fill="#c0c0c0"/>
<rect x="189" y="588" width="1" height="66" fill="#c0c0c0"/>
<rect x="197" y="586" width="1" height="68" fill="#c0c0c0"/>
<rect x="205" y="588" width="1" height="66" fill="#c0c0c0"/>
<rect x="213" y="590" width="1" height="64" fill="#c0c0c0"/>
<rect x="221" y="591" width="1" height="63" fill="#c0c0c0"/>
<rect x="229" y="589" width="1" height="65" fill="#c0c0c0"/>
<rect x="237" y="588" width="1" height="66" fill="#c0c0c0"/>
<rect x="245" y="585" width="1" height="69" fill="#c0c0c0"/>
<rect x="253" y="585" width="1" height="69" fill="#c0c0c0"/>
<rect x="261" y="585" width="1" height="69" fill="#c0c0c0"/>
<rect x="269" y="590" width="1" height="64" fill="#c0c0c0"/>
<rect x="277" y="591" width="1" height="63" fill="#c0c0c0"/>
<rect x="285" y="595" width="1" height="59" fill="#c0c0c0"/>
<rect x="293" y="596" width="1" height="58" fill="#c0c0c0"/>
<rect x="301" y="603" width="1" height="51" fill="#c0c0c0"/>
<rect x="309" y="608" width="1" height="46" fill="#c0c0c0"/>
<rect x="317" y="614" width="1" height="40" fill="#c0c0c0"/>
<rect x="325" y="612" width="1" height="42" fill="#c0c0c0"/>
<rect x="333" y="610" width="1" height="44" fill="#c0c0c0"/>
<rect x="341" y="605" width="1" height="49" fill="#c0c0c0"/>
<rect x="349" y="603" width="1" height="51" fill="#c0c0c0"/>
<rect x="357" y="600" width="1" height="54" fill="#c0c0c0"/>
<rect x="365" y="594" width="1" height="60" fill="#c0c0c0"/>
<rect x="373" y="590" width="1" height="64" fill="#c0c0c0"/>
<rect x="381" y="588" width="1" height="66" fill="#c0c0c0"/>
<rect x="389" y="592" width="1" height="62" fill="#c0c0c0"/>
<rect x="397" y="594" width="1" height="60" fill="#c0c0c0"/>
<rect x="405" y="598" width="1" height="56" fill="#c0c0c0"/>
<rect x="413" y="606" width="1" height="48" fill="#c0c0c0"/>
<rect x="421" y="626" width="1" height="28" fill="#c0c0c0"/>
<rect x="429" y="638" width="1" height="16" fill="#c0c0c0"/>
<rect x="437" y="653" width="1" height="4" fill="#c0c0c0"/>
<rect x="445" y="653" width="1" height="22" fill="#c0c0c0"/>
<rect x="453" y="653" width="1" height="34" fill="#c0c0c0"/>
<rect x="461" y="653" width="1" height="43" fill="#c0c0c0"/>
<rect x="469" y="653" width="1" height="51" fill="#c0c0c0"/>
<rect x="477" y="653" width="1" height="54" fill="#c0c0c0"/>
<rect x="485" y="653" width="1" height="57" fill="#c0c0c0"/>
<rect x="493" y="653" width="1" height="63" fill="#c0c0c0"/>
<rect x="501" y="653" width="1" height="67" fill="#c0c0c0"/>
<rect x="509" y="653" width="1" height="74" fill="#c0c0c0"/>
<rect x="517" y="653" width="1" height="80" fill="#c0c0c0"/>
<rect x="525" y="653" width="1" height="84" fill="#c0c0c0"/>
<rect x="533" y="653" width="1" height="83" fill="#c0c0c0"/>
<rect x="541" y="653" width="1" height="82" fill="#c0c0c0"/>
<rect x="549" y="653" width="1" height="78" fill="#c0c0c0"/>
<rect x="557" y="653" width="1" height="69" fill="#c0c0c0"/>
<rect x="565" y="653" width="1" height="61" fill="#c0c0c0"/>
<rect x="573" y="653" width="1" height="52" fill="#c0c0c0"/>
<rect x="581" y="653" width="1" height="45" fill="#c0c0c0"/>
<rect x="589" y="653" width="1" height="38" fill="#c0c0c0"/>
<rect x="597" y="653" width="1" height="32" fill="#c0c0c0"/>
<rect x="605" y="653" width="1" height="22" fill="#c0c0c0"/>
<rect x="613" y="653" width="1" height="20" fill="#c0c0c0"/>
<rect x="621" y="653" width="1" height="14" fill="#c0c0c0"/>
<rect x="629" y="653" width="1" height="8" fill="#c0c0c0"/>
<rect x="637" y="653" width="1" height="1" fill="#c0c0c0"/>
<rect x="645" y="649" width="1" height="5" fill="#c0c0c0"/>
<rect x="653" y="645" width="1" height="9" fill="#c0c0c0"/>
<rect x="661" y="648" width="1" height="6" fill="#c0c0c0"/>
<rect x="669" y="648" width="1" height="6" fill="#c0c0c0"/>
<rect x="677" y="653" width="1" height="1" fill="#c0c0c0"/>
<rect x="685" y="653" width="1" height="1" fill="#c0c0c0"/>
<rect x="693" y="653" width="1" height="2" fill="#c0c0c0"/>
<rect x="701" y="653" width="1" height="2" fill="#c0c0c0"/>
<rect x="709" y="653" width="1" height="1" fill="#c0c0c0"/>
<rect x="717" y="652" width="1" height="2" fill="#c0c0c0"/>
<rect x="725" y="649" width="1" height="5" fill="#c0c0c0"/>
<rect x="733" y="651" width="1" height="3" fill="#c0c0c0"/>
<rect x="741" y="652" width="1" height="2" fill="#c0c0c0"/>
<rect x="749" y="653" width="1" height="1" fill="#c0c0c0"/>
<rect x="757" y="653" width="1" height="1" fill="#c0c0c0"/>
<rect x="765" y="653" width="1" height="7" fill="#c0c0c0"/>
<rect x="773" y="653" width="1" height="13" fill="#c0c0c0"/>
<rect x="781" y="653" width="1" height="15" fill="#c0c0c0"/>
<rect x="789" y="653" width="1" height="19" fill="#c0c0c0"/>
<rect x="797" y="653" width="1" height="21" fill="#c0c0c0"/>
<rect x="805" y="653" width="1" height="13" fill="#c0c0c0"/>
<rect x="813" y="653" width="1" height="15" fill="#c0c0c0"/>
<rect x="821" y="653" width="1" height="13" fill="#c0c0c0"/>
<rect x="829" y="653" width="1" height="13" fill="#c0c0c0"/>
<rect x="837" y="653" width="1" height="12" fill="#c0c0c0"/>
<rect x="845" y="653" width="1" height="1" fill="#c0c0c0"/>
<rect x="853" y="637" width="1" height="17" fill="#c0c0c0"/>
<rect x="861" y="625" width="1" height="29" fill="#c0c0c0"/>
<rect x="869" y="624" width="1" height="30" fill="#c0c0c0"/>
<rect x="877" y="624" width="1" height="30" fill="#c0c0c0"/>
<rect x="885" y="621" width="1" height="33" fill="#c0c0c0"/>
<rect x="893" y="621" width="1" height="33" fill="#c0c0c0"/>
<rect x="901" y="621" width="1" height="33" fill="#c0c0c0"/>
<rect x="909" y="624" width="1" height="30" fill="#c0c0c0"/>
<rect x="917" y="627" width="1" height="27" fill="#c0c0c0"/>
<rect x="925" y="628" width="1" height="26" fill="#c0c0c0"/>
<rect x="933" y="628" width="1" height="26" fill="#c0c0c0"/>
<rect x="941" y="624" width="1" height="30" fill="#c0c0c0"/>
<rect x="949" y="617" width="1" height="37" fill="#c0c0c0"/>
<rect x="957" y="612" width="1" height="42" fill="#c0c0c0"/>
<rect x="965" y="612" width="1" height="42" fill="#c0c0c0"/>
<rect x="973" y="616" width="1" height="38" fill="#c0c0c0"/>
<rect x="981" y="618" width="1" height="36" fill="#c0c0c0"/>
<rect x="989" y="618" width="1" height="36" fill="#c0c0c0"/>
<rect x="997" y="614" width="1" height="40" fill="#c0c0c0"/>
<rect x="1005" y="613" width="1" height="41" fill="#c0c0c0"/>
<rect x="1013" y="613" width="1" height="41" fill="#c0c0c0"/>
<rect x="1021" y="612" width="1" height="42" fill="#c0c0c0"/>
<rect x="1029" y="612" width="1" height="42" fill="#c0c0c0"/>
<rect x="1037" y="617" width="1" height="37" fill="#c0c0c0"/>
<rect x="1045" y="620" width="1" height="34" fill="#c0c0c0"/>
<rect x="1053" y="622" width="1" height="32" fill="#c0c0c0"/>
<rect x="1061" y="628" width="1" height="26" fill="#c0c0c0"/>
<rect x="1069" y="638" width="1" height="16" fill="#c0c0c0"/>
<rect x="1077" y="641" width="1" height="13" fill="#c0c0c0"/>
<rect x="1085" y="644" width="1" height="10" fill="#c0c0c0"/>
<rect x="1093" y="642" width="1" height="12" fill="#c0c0c0"/>
<rect x="1101" y="638" width="1" height="16" fill="#c0c0c0"/>
<rect x="1109" y="635" width="1" height="19" fill="#c0c0c0"/>
<rect x="1117" y="634" width="1" height="20" fill="#c0c0c0"/>
<rect x="1125" y="639" width="1" height="15" fill="#c0c0c0"/>
<rect x="1133" y="641" width="1" height="13" fill="#c0c0c0"/>
<rect x="1141" y="644" width="1" height="10" fill="#c0c0c0"/>
<rect x="1149" y="640" width="1" height="14" fill="#c0c0c0"/>
<rect x="1157" y="635" width="1" height="19" fill="#c0c0c0"/>
<rect x="1165" y="631" width="1" height="23" fill="#c0c0c0"/>
<rect x="1173" y="632" width="1" height="22" fill="#c0c0c0"/>
<rect x="1181" y="633" width="1" height="21" fill="#c0c0c0"/>
<rect x="1189" y="629" width="1" height="25" fill="#c0c0c0"/>
<rect x="1197" y="625" width="1" height="29" fill="#c0c0c0"/>
<rect x="1205" y="620" width="1" height="34" fill="#c0c0c0"/>
<rect x="1213" y="624" width="1" height="30" fill="#c0c0c0"/>
<rect x="1221" y="628" width="1" height="26" fill="#c0c0c0"/>
<rect x="1229" y="628" width="1" height="26" fill="#c0c0c0"/>
<rect x="1237" y="626" width="1" height="28" fill="#c0c0c0"/>
<rect x="1245" y="624" width="1" height="30" fill="#c0c0c0"/>
<rect x="1253" y="625" width="1" height="29" fill="#c0c0c0"/>
<rect x="1261" y="625" width="1" height="29" fill="#c0c0c0"/>
<rect x="1269" y="620" width="1" height="34" fill="#c0c0c0"/>
<rect x="1277" y="618" width="1" height="36" fill="#c0c0c0"/>
<rect x="1285" y="614" width="1" height="40" fill="#c0c0c0"/>
<rect x="1293" y="617" width="1" height="37" fill="#c0c0c0"/>
<rect x="1301" y="621" width="1" height="33" fill="#c0c0c0"/>
<rect x="1309" y="623" width="1" height="31" fill="#c0c0c0"/>
<rect x="1317" y="621" width="1" height="33" fill="#c0c0c0"/>
<rect x="1325" y="622" width="1" height="32" fill="#c0c0c0"/>
<rect x="1333" y="620" width="1" height="34" fill="#c0c0c0"/>
<rect x="1341" y="619" width="1" height="35" fill="#c0c0c0"/>
<rect x="1349" y="619" width="1" height="35" fill="#c0c0c0"/>
<rect x="1357" y="619" width="1" height="35" fill="#c0c0c0"/>
<rect x="1365" y="617" width="1" height="37" fill="#c0c0c0"/>
<rect x="1373" y="617" width="1" height="37" fill="#c0c0c0"/>
<rect x="1381" y="613" width="1" height="41" fill="#c0c0c0"/>
<rect x="1389" y="608" width="1" height="46" fill="#c0c0c0"/>
<rect x="1397" y="606" width="1" height="48" fill="#c0c0c0"/>
<rect x="1405" y="604" width="1" height="50" fill="#c0c0c0"/>
<rect x="1413" y="604" width="1" height="50" fill="#c0c0c0"/>
<rect x="1421" y="604" width="1" height="50" fill="#c0c0c0"/>
<rect x="1429" y="600" width="1" height="54" fill="#c0c0c0"/>
<rect x="1437" y="596" width="1" height="58" fill="#c0c0c0"/>
</g>
<path fill="none" stroke="#ff0000" stroke-width="1" shape-rendering="crispEdges" d="M261 586.5h3M243 587.5h3M249 587.5h3M255 587.5h3M267 587.5h3M273 587.5h3M279 587.5h3M237 588.5h3M285 588.5h3M291 588.5h3M231 589.5h3M297 589.5h3M225 590.5h3M220 591.5h2M304 591.5h2M309 592.5h2M213 594.5h2M316 595.5h2M405 595.5h3M411 595.5h3M399 596.5h3M207 597.5h2M322 597.5h2M393 597.5h3M418 597.5h2M388 598.5h2M327 599.5h3M423 599.5h2M201 600.5h2M333 601.5h3M381 601.5h2M376 602.5h2M195 603.5h2M340 603.5h2M370 603.5h2M346 604.5h2M351 604.5h3M363 604.5h3M357 605.5h3M189 606.5h2M1432 606.5h2M1425 608.5h3M183 609.5h2M1420 609.5h2M1413 611.5h3M177 612.5h2M1408 612.5h2M1018 613.5h2M1023 613.5h3M1029 613.5h3M1402 613.5h2M172 614.5h2M1011 614.5h3M1035 614.5h3M1041 614.5h3M1047 614.5h3M1396 614.5h2M1005 615.5h3M1053 615.5h3M1000 616.5h2M1059 616.5h3M1389 616.5h3M165 617.5h2M994 617.5h2M1065 617.5h3M1384 617.5h2M987 618.5h3M1341 618.5h3M1378 618.5h2M159 619.5h3M981 619.5h3M1071 619.5h2M1317 619.5h3M1323 619.5h3M1329 619.5h3M1335 619.5h3M1347 619.5h3M1353 619.5h3M1359 619.5h3M1365 619.5h3M1371 619.5h3M963 620.5h3M969 620.5h3M975 620.5h3M1299 620.5h3M1305 620.5h3M1311 620.5h3M154 621.5h2M957 621.5h3M1293 621.5h3M946 622.5h2M951 622.5h3M1077 622.5h2M1282 622.5h2M1287 622.5h3M148 623.5h2M922 623.5h2M927 623.5h3M933 623.5h3M939 623.5h3M1269 623.5h3M1275 623.5h3M916 624.5h2M1251 624.5h3M1257 624.5h3M1263 624.5h3M141 625.5h3M1084 625.5h2M1245 625.5h3M136 626.5h2M1234 626.5h2M1239 626.5h3M909 627.5h2M1090 627.5h2M1227 627.5h3M129 628.5h3M1221 628.5h3M123 629.5h3M1095 629.5h3M1215 629.5h3M117 630.5h3M903 630.5h2M1209 630.5h3M112 631.5h2M1101 631.5h3M1204 631.5h2M106 632.5h2M99 633.5h3M898 633.5h2M1108 633.5h2M1197 633.5h3M93 634.5h3M1113 634.5h3M1192 634.5h2M88 635.5h2M1186 635.5h2M75 636.5h3M81 636.5h3M1120 636.5h2M1167 636.5h3M1173 636.5h3M1179 636.5h3M58 637.5h2M63 637.5h3M69 637.5h3M1125 637.5h3M1161 637.5h3M891 638.5h2M1131 638.5h3M1155 638.5h3M51 639.5h2M1138 639.5h2M1143 639.5h3M1149 639.5h3M886 641.5h2M45 642.5h2M40 643.5h2M33 645.5h3M880 645.5h2M27 647.5h2M21 650.5h2M699 650.5h3M705 650.5h3M711 650.5h3M693 651.5h3M717 651.5h3M723 651.5h3M687 652.5h3M730 652.5h2M735 652.5h3M741 652.5h3M747 652.5h3M753 652.5h3M759 652.5h3M15 653.5h2M682 653.5h2M765 653.5h3M867 653.5h2M771 654.5h3M676 655.5h2M778 655.5h2M783 656.5h3M862 656.5h2M669 657.5h3M789 658.5h2M3 660.5h2M664 660.5h2M796 661.5h2M802 662.5h2M808 663.5h2M657 664.5h2M813 664.5h3M850 664.5h2M820 666.5h2M844 666.5h2M826 667.5h2M831 667.5h3M837 668.5h3M646 671.5h2M640 676.5h2M634 681.5h2M616 696.5h2M514 709.5h2M525 717.5h2M531 720.5h2M585 721.5h2M537 723.5h2M579 724.5h2M544 726.5h2M549 727.5h3M573 727.5h2M562 728.5h2M567 728.5h3M556 729.5h2M5.5 659v1M9.5 657v1M10.5 656v1M11.5 655v1M17.5 652v1M23.5 649v1M29.5 646v1M39.5 644v1M47.5 641v1M53.5 638v1M57.5 638v1M87.5 636v1M105.5 633v1M111.5 632v1M135.5 627v1M147.5 624v1M153.5 622v1M167.5 616v1M171.5 615v1M179.5 611v1M185.5 608v1M191.5 605v1M197.5 602v1M203.5 599v1M209.5 596v1M215.5 593v1M219.5 592v1M303.5 590v1M311.5 593v1M315.5 594v1M321.5 596v1M339.5 602v1M345.5 603v1M369.5 604v1M375.5 603v1M383.5 600v1M387.5 599v1M417.5 596v1M425.5 600v1M429.5 602v1M430.5 603v1M431.5 604v1M435.5 607v1M436.5 608v1M437.5 609v1M440.5 613v1M441.5 614v1M442.5 615v1M445.5 619v1M446.5 620v2M449.5 625v1M450.5 626v1M451.5 627v1M454.5 631v2M455.5 633v1M458.5 637v1M459.5 638v1M460.5 639v1M462.5 643v1M463.5 644v2M466.5 649v1M467.5 650v2M470.5 655v2M471.5 657v1M474.5 661v2M475.5 663v1M478.5 667v2M479.5 669v1M482.5 673v2M483.5 675v1M486.5 679v1M487.5 680v2M491.5 685v2M492.5 687v1M496.5 691v1M497.5 692v2M501.5 697v1M502.5 698v1M503.5 699v1M507.5 703v1M508.5 704v1M509.5 705v1M513.5 708v1M519.5 712v1M520.5 713v1M521.5 714v1M527.5 718v1M533.5 721v1M539.5 724v1M543.5 725v1M555.5 728v1M561.5 729v1M575.5 726v1M581.5 723v1M587.5 720v1M591.5 718v1M592.5 717v1M593.5 716v1M597.5 713v1M598.5 712v1M599.5 711v1M603.5 708v1M604.5 707v1M605.5 706v1M609.5 703v1M610.5 702v1M611.5 701v1M615.5 697v1M621.5 692v1M622.5 691v1M623.5 690v1M627.5 687v1M628.5 686v1M629.5 685v1M633.5 682v1M639.5 677v1M645.5 672v1M651.5 668v1M652.5 667v1M653.5 666v1M659.5 663v1M663.5 661v1M675.5 656v1M681.5 654v1M729.5 651v1M777.5 654v1M791.5 659v1M795.5 660v1M801.5 661v1M807.5 662v1M819.5 665v1M825.5 666v1M843.5 667v1M849.5 665v1M855.5 662v1M856.5 661v1M857.5 660v1M861.5 657v1M869.5 652v1M873.5 650v1M874.5 649v1M875.5 648v1M879.5 646v1M885.5 642v1M893.5 637v1M897.5 634v1M905.5 629v1M911.5 626v1M915.5 625v1M921.5 624v1M945.5 623v1M993.5 618v1M999.5 617v1M1017.5 614v1M1073.5 620v1M1079.5 623v1M1083.5 624v1M1089.5 626v1M1107.5 632v1M1119.5 635v1M1137.5 638v1M1185.5 636v1M1191.5 635v1M1203.5 632v1M1233.5 627v1M1281.5 623v1M1377.5 619v1M1383.5 618v1M1395.5 615v1M1401.5 614v1M1407.5 613v1M1419.5 610v1M1431.5 607v1"/>
<text x="1" y="588" class="s" font-size="9" fill="#000" textLength="127.6" lengthAdjust="spacingAndGlyphs">MACD(12,26,9) 0.9273 0.7672</text>
<g shape-rendering="crispEdges" stroke="#c0c0c0" stroke-dasharray="3 3" stroke-width="1">
<line x1="-2" y1="783.5" x2="1687" y2="783.5"/>
<line x1="-2" y1="834.5" x2="1687" y2="834.5"/>
<line x1="-2" y1="895.5" x2="1687" y2="895.5"/>
</g>
<path fill="none" stroke="#1e90ff" stroke-width="1" shape-rendering="crispEdges" d="M162 790.5h12M157 791.5h5M1434 791.5h2M1431 792.5h3M243 793.5h2M1429 793.5h2M241 794.5h2M239 795.5h2M194 796.5h4M237 796.5h2M372 796.5h4M189 797.5h5M235 797.5h2M368 797.5h4M376 797.5h4M187 798.5h2M233 798.5h2M260 798.5h2M365 798.5h3M380 798.5h2M185 799.5h2M231 799.5h2M256 799.5h4M1388 799.5h4M183 800.5h2M228 800.5h3M253 800.5h3M362 800.5h2M1386 800.5h2M1392 800.5h4M181 801.5h2M226 801.5h2M1383 801.5h3M1396 801.5h19M223 802.5h3M1381 802.5h2M1415 802.5h2M221 803.5h2M358 803.5h2M1417 803.5h2M341 804.5h3M356 804.5h2M1419 804.5h2M218 805.5h2M344 805.5h4M352 805.5h4M205 806.5h2M348 806.5h4M92 807.5h2M207 807.5h3M853 807.5h3M90 808.5h2M210 808.5h2M214 808.5h2M856 808.5h4M87 809.5h3M212 809.5h2M860 809.5h2M1283 809.5h3M85 810.5h2M274 810.5h2M292 810.5h2M954 810.5h4M1281 810.5h2M83 811.5h2M848 811.5h2M948 811.5h6M1269 811.5h5M1279 811.5h2M81 812.5h2M325 812.5h9M946 812.5h2M1204 812.5h2M1274 812.5h5M1365 812.5h9M79 813.5h2M270 813.5h2M288 813.5h2M943 813.5h3M1200 813.5h4M77 814.5h2M395 814.5h2M398 814.5h2M941 814.5h2M998 814.5h2M1197 814.5h3M1362 814.5h2M1000 815.5h2M1020 815.5h4M1195 815.5h2M1333 815.5h13M136 816.5h2M392 816.5h2M1018 816.5h2M1024 816.5h4M1346 816.5h6M389 817.5h3M402 817.5h2M1003 817.5h2M1015 817.5h3M1028 817.5h2M1162 817.5h4M1192 817.5h2M1317 817.5h2M1330 817.5h2M1352 817.5h4M1358 817.5h2M1005 818.5h10M1157 818.5h5M1190 818.5h2M1319 818.5h2M1356 818.5h2M0 819.5h4M132 819.5h2M1108 819.5h2M1155 819.5h2M1242 819.5h5M1321 819.5h2M4 820.5h4M128 820.5h4M637 820.5h5M1106 820.5h2M1110 820.5h2M1237 820.5h5M1247 820.5h2M1323 820.5h2M1326 820.5h2M8 821.5h4M122 821.5h6M635 821.5h2M642 821.5h12M885 821.5h3M1103 821.5h3M1152 821.5h2M1235 821.5h2M1249 821.5h2M1260 821.5h2M12 822.5h10M114 822.5h8M604 822.5h2M633 822.5h2M883 822.5h2M888 822.5h4M987 822.5h2M1100 822.5h3M1150 822.5h2M1233 822.5h2M1251 822.5h2M1256 822.5h4M22 823.5h2M109 823.5h5M631 823.5h2M717 823.5h2M892 823.5h4M985 823.5h2M1098 823.5h2M1114 823.5h2M1231 823.5h2M1253 823.5h3M629 824.5h2M719 824.5h2M880 824.5h2M896 824.5h4M983 824.5h2M1095 824.5h3M1229 824.5h2M627 825.5h2M721 825.5h2M869 825.5h5M878 825.5h2M900 825.5h3M932 825.5h2M981 825.5h2M1052 825.5h2M1093 825.5h2M26 826.5h2M36 826.5h3M625 826.5h2M723 826.5h2M874 826.5h4M903 826.5h2M930 826.5h2M979 826.5h2M1048 826.5h4M1226 826.5h2M1293 826.5h11M32 827.5h4M39 827.5h3M52 827.5h2M306 827.5h8M623 827.5h2M905 827.5h2M927 827.5h3M977 827.5h2M1045 827.5h3M1178 827.5h4M1304 827.5h4M29 828.5h3M42 828.5h2M48 828.5h4M54 828.5h2M301 828.5h5M314 828.5h4M621 828.5h2M907 828.5h2M924 828.5h3M975 828.5h2M1043 828.5h2M1173 828.5h5M1308 828.5h2M44 829.5h4M909 829.5h3M922 829.5h2M973 829.5h2M1041 829.5h2M1222 829.5h2M67 830.5h2M912 830.5h4M919 830.5h3M1039 830.5h2M1213 830.5h9M58 831.5h2M65 831.5h2M916 831.5h3M1037 831.5h2M63 832.5h2M61 833.5h2M596 833.5h2M1133 833.5h2M592 834.5h4M667 834.5h2M706 834.5h4M1131 834.5h2M1135 834.5h3M589 835.5h3M701 835.5h5M740 835.5h3M1084 835.5h2M1129 835.5h2M1138 835.5h2M587 836.5h2M664 836.5h2M699 836.5h2M736 836.5h4M743 836.5h3M821 836.5h2M836 836.5h2M1080 836.5h4M1127 836.5h2M1140 836.5h2M572 837.5h4M585 837.5h2M613 837.5h2M661 837.5h3M697 837.5h2M733 837.5h3M746 837.5h2M823 837.5h3M834 837.5h2M1077 837.5h3M1125 837.5h2M570 838.5h2M576 838.5h4M583 838.5h2M695 838.5h2M748 838.5h3M826 838.5h2M831 838.5h3M567 839.5h3M580 839.5h3M685 839.5h10M751 839.5h3M828 839.5h3M564 840.5h3M683 840.5h2M754 840.5h2M562 841.5h2M681 841.5h2M756 841.5h2M559 842.5h3M679 842.5h2M557 843.5h2M677 843.5h2M813 843.5h2M782 847.5h2M796 849.5h2M786 850.5h2M794 850.5h2M765 851.5h2M791 851.5h3M767 852.5h3M789 852.5h2M770 853.5h2M772 854.5h2M421 857.5h2M477 858.5h3M475 859.5h2M480 859.5h4M484 860.5h2M546 860.5h2M472 861.5h2M486 861.5h2M452 862.5h6M470 862.5h2M450 863.5h2M458 863.5h12M533 863.5h5M542 863.5h2M437 864.5h5M447 864.5h3M490 864.5h2M538 864.5h4M442 865.5h5M498 865.5h4M493 866.5h5M504 868.5h2M509 872.5h3M512 873.5h4M516 874.5h10M24.5 824v1M25.5 825v1M28.5 827v1M56.5 829v1M57.5 830v1M60.5 832v1M69.5 829v1M70.5 827v2M71.5 825v2M72.5 823v2M73.5 821v2M74.5 819v2M75.5 817v2M76.5 815v2M94.5 808v1M95.5 809v1M96.5 810v1M97.5 811v1M98.5 812v1M99.5 813v1M100.5 814v1M101.5 815v1M102.5 816v1M103.5 817v1M104.5 818v1M105.5 819v1M106.5 820v1M107.5 821v1M108.5 822v1M134.5 818v1M135.5 817v1M138.5 815v1M139.5 814v1M140.5 813v1M141.5 812v1M142.5 810v2M143.5 809v1M144.5 807v2M145.5 806v1M146.5 804v2M147.5 803v1M148.5 801v2M149.5 800v1M150.5 799v1M151.5 798v1M152.5 797v1M153.5 795v2M154.5 794v1M155.5 793v1M156.5 792v1M174.5 791v2M175.5 793v1M176.5 794v1M177.5 795v2M178.5 797v1M179.5 798v1M180.5 799v2M198.5 797v1M199.5 798v2M200.5 800v1M201.5 801v1M202.5 802v1M203.5 803v2M204.5 805v1M216.5 807v1M217.5 806v1M220.5 804v1M245.5 792v1M246.5 793v1M247.5 794v1M248.5 795v1M249.5 796v1M250.5 797v1M251.5 798v1M252.5 799v1M261.5 799v1M262.5 800v2M263.5 802v2M264.5 804v2M265.5 806v2M266.5 808v2M267.5 810v2M268.5 812v2M269.5 814v1M272.5 812v1M273.5 811v1M276.5 809v1M277.5 808v1M278.5 809v1M279.5 810v1M280.5 811v1M281.5 812v1M282.5 813v1M283.5 814v1M284.5 815v1M285.5 816v1M286.5 815v1M287.5 814v1M290.5 812v1M291.5 811v1M293.5 809v1M294.5 811v2M295.5 813v2M296.5 815v3M297.5 818v2M298.5 820v3M299.5 823v2M300.5 825v2M301.5 827v1M317.5 827v1M318.5 825v2M319.5 823v2M320.5 821v2M321.5 819v2M322.5 817v2M323.5 815v2M324.5 813v2M334.5 811v1M335.5 810v1M336.5 809v1M337.5 808v1M338.5 807v1M339.5 806v1M340.5 805v1M360.5 802v1M361.5 801v1M364.5 799v1M381.5 799v1M382.5 800v2M383.5 802v3M384.5 805v2M385.5 807v3M386.5 810v2M387.5 812v3M388.5 815v2M389.5 818v1M394.5 815v1M397.5 813v1M400.5 815v1M401.5 816v1M404.5 818v1M405.5 819v1M406.5 820v2M407.5 822v2M408.5 824v2M409.5 826v2M410.5 828v2M411.5 830v2M412.5 832v2M413.5 834v2M414.5 836v3M415.5 839v3M416.5 842v3M417.5 845v3M418.5 848v3M419.5 851v3M420.5 854v3M421.5 858v1M423.5 856v1M424.5 855v1M425.5 853v2M426.5 852v1M427.5 851v1M428.5 850v1M429.5 849v1M430.5 850v2M431.5 852v2M432.5 854v2M433.5 856v2M434.5 858v2M435.5 860v2M436.5 862v2M474.5 860v1M488.5 862v1M489.5 863v1M492.5 865v1M502.5 866v1M503.5 867v1M506.5 869v1M507.5 870v1M508.5 871v1M526.5 872v2M527.5 871v1M528.5 870v1M529.5 868v2M530.5 867v1M531.5 866v1M532.5 864v2M544.5 862v1M545.5 861v1M548.5 859v1M549.5 858v1M550.5 856v2M551.5 854v2M552.5 852v2M553.5 850v2M554.5 848v2M555.5 846v2M556.5 844v2M598.5 831v2M599.5 830v1M600.5 828v2M601.5 827v1M602.5 825v2M603.5 824v1M604.5 823v1M605.5 821v1M606.5 823v2M607.5 825v2M608.5 827v2M609.5 829v2M610.5 831v2M611.5 833v2M612.5 835v2M613.5 838v1M615.5 835v2M616.5 834v1M617.5 833v1M618.5 832v1M619.5 830v2M620.5 829v1M653.5 822v1M654.5 823v2M655.5 825v2M656.5 827v2M657.5 829v2M658.5 831v2M659.5 833v2M660.5 835v2M661.5 838v1M666.5 835v1M669.5 833v1M670.5 834v1M671.5 835v2M672.5 837v1M673.5 838v1M674.5 839v1M675.5 840v2M676.5 842v1M710.5 832v2M711.5 831v1M712.5 830v1M713.5 828v2M714.5 827v1M715.5 826v1M716.5 824v2M725.5 827v1M726.5 828v1M727.5 829v2M728.5 831v1M729.5 832v1M730.5 833v1M731.5 834v2M732.5 836v1M758.5 842v1M759.5 843v2M760.5 845v1M761.5 846v1M762.5 847v1M763.5 848v2M764.5 850v1M774.5 853v1M775.5 852v1M776.5 851v1M777.5 850v1M778.5 849v1M779.5 848v1M780.5 847v1M781.5 846v1M784.5 848v1M785.5 849v1M788.5 851v1M797.5 848v1M798.5 845v3M799.5 841v4M800.5 838v3M801.5 835v3M802.5 832v3M803.5 828v4M804.5 825v3M805.5 823v2M806.5 825v2M807.5 827v3M808.5 830v3M809.5 833v2M810.5 835v3M811.5 838v3M812.5 841v2M813.5 844v1M815.5 842v1M816.5 841v1M817.5 840v1M818.5 839v1M819.5 838v1M820.5 837v1M837.5 835v1M838.5 832v3M839.5 830v2M840.5 827v3M841.5 824v3M842.5 821v3M843.5 819v2M844.5 816v3M845.5 814v2M846.5 813v1M847.5 812v1M850.5 810v1M851.5 809v1M852.5 808v1M861.5 810v1M862.5 811v2M863.5 813v2M864.5 815v2M865.5 817v2M866.5 819v2M867.5 821v2M868.5 823v2M882.5 823v1M934.5 823v2M935.5 822v1M936.5 821v1M937.5 819v2M938.5 818v1M939.5 817v1M940.5 815v2M958.5 811v1M959.5 812v1M960.5 813v1M961.5 814v1M962.5 815v1M963.5 816v1M964.5 817v1M965.5 818v1M966.5 819v2M967.5 821v1M968.5 822v1M969.5 823v2M970.5 825v1M971.5 826v1M972.5 827v2M989.5 821v1M990.5 820v1M991.5 819v1M992.5 818v1M993.5 817v1M994.5 816v1M995.5 815v1M996.5 814v1M997.5 813v1M1002.5 816v1M1030.5 818v2M1031.5 820v2M1032.5 822v2M1033.5 824v1M1034.5 825v2M1035.5 827v2M1036.5 829v2M1054.5 826v1M1055.5 827v2M1056.5 829v1M1057.5 830v1M1058.5 831v1M1059.5 832v2M1060.5 834v1M1061.5 835v1M1062.5 836v2M1063.5 838v2M1064.5 840v1M1065.5 841v2M1066.5 843v1M1067.5 844v2M1068.5 846v2M1069.5 848v1M1070.5 846v2M1071.5 845v1M1072.5 844v1M1073.5 842v2M1074.5 841v1M1075.5 840v1M1076.5 838v2M1086.5 834v1M1087.5 832v2M1088.5 831v1M1089.5 830v1M1090.5 829v1M1091.5 827v2M1092.5 826v1M1112.5 821v1M1113.5 822v1M1116.5 824v1M1117.5 825v1M1118.5 826v2M1119.5 828v1M1120.5 829v2M1121.5 831v1M1122.5 832v2M1123.5 834v1M1124.5 835v2M1142.5 834v2M1143.5 832v2M1144.5 831v1M1145.5 829v2M1146.5 828v1M1147.5 826v2M1148.5 824v2M1149.5 823v1M1154.5 820v1M1166.5 818v2M1167.5 820v1M1168.5 821v1M1169.5 822v2M1170.5 824v1M1171.5 825v1M1172.5 826v2M1182.5 826v1M1183.5 825v1M1184.5 824v1M1185.5 823v1M1186.5 822v1M1187.5 821v1M1188.5 820v1M1189.5 819v1M1194.5 816v1M1205.5 813v1M1206.5 814v2M1207.5 816v2M1208.5 818v2M1209.5 820v3M1210.5 823v2M1211.5 825v2M1212.5 827v2M1213.5 829v1M1224.5 828v1M1225.5 827v1M1228.5 825v1M1262.5 820v1M1263.5 818v2M1264.5 817v1M1265.5 816v1M1266.5 815v1M1267.5 813v2M1268.5 812v1M1285.5 808v1M1286.5 810v2M1287.5 812v2M1288.5 814v2M1289.5 816v3M1290.5 819v2M1291.5 821v2M1292.5 823v2M1293.5 825v1M1310.5 826v2M1311.5 825v1M1312.5 824v1M1313.5 822v2M1314.5 821v1M1315.5 820v1M1316.5 818v2M1325.5 821v1M1328.5 819v1M1329.5 818v1M1332.5 816v1M1360.5 816v1M1361.5 815v1M1364.5 813v1M1374.5 811v1M1375.5 809v2M1376.5 808v1M1377.5 807v1M1378.5 806v1M1379.5 804v2M1380.5 803v1M1421.5 805v1M1422.5 803v2M1423.5 802v1M1424.5 800v2M1425.5 799v1M1426.5 797v2M1427.5 796v1M1428.5 794v2M1436.5 790v1"/>
<text x="1" y="760" class="s" font-size="9" fill="#000" textLength="67.8" lengthAdjust="spacingAndGlyphs">RSI(14) 76.0907</text>
<g shape-rendering="crispEdges">
<rect x="61" y="922" width="1" height="3" fill="#000"/>
<rect x="125" y="922" width="1" height="3" fill="#000"/>
<rect x="189" y="922" width="1" height="3" fill="#000"/>
<rect x="253" y="922" width="1" height="3" fill="#000"/>
<rect x="317" y="922" width="1" height="3" fill="#000"/>
<rect x="381" y="922" width="1" height="3" fill="#000"/>
<rect x="445" y="922" width="1" height="3" fill="#000"/>
<rect x="509" y="922" width="1" height="3" fill="#000"/>
<rect x="573" y="922" width="1" height="3" fill="#000"/>
<rect x="637" y="922" width="1" height="3" fill="#000"/>
<rect x="701" y="922" width="1" height="3" fill="#000"/>
<rect x="765" y="922" width="1" height="3" fill="#000"/>
<rect x="829" y="922" width="1" height="3" fill="#000"/>
<rect x="893" y="922" width="1" height="3" fill="#000"/>
<rect x="957" y="922" width="1" height="3" fill="#000"/>
<rect x="1021" y="922" width="1" height="3" fill="#000"/>
<rect x="1085" y="922" width="1" height="3" fill="#000"/>
<rect x="1149" y="922" width="1" height="3" fill="#000"/>
<rect x="1213" y="922" width="1" height="3" fill="#000"/>
<rect x="1277" y="922" width="1" height="3" fill="#000"/>
<rect x="1341" y="922" width="1" height="3" fill="#000"/>
<rect x="1405" y="922" width="1" height="3" fill="#000"/>
</g>
<text x="-4" y="934" class="s" font-size="9.25" fill="#000">8 Jul 2020</text>
<text x="60" y="934" class="s" font-size="9.25" fill="#000">17 Jul 2020</text>
<text x="124" y="934" class="s" font-size="9.25" fill="#000">27 Jul 2020</text>
<text x="188" y="934" class="s" font-size="9.25" fill="#000">5 Aug 2020</text>
<text x="252" y="934" class="s" font-size="9.25" fill="#000">14 Aug 2020</text>
<text x="316" y="934" class="s" font-size="9.25" fill="#000">24 Aug 2020</text>
<text x="380" y="934" class="s" font-size="9.25" fill="#000">2 Sep 2020</text>
<text x="444" y="934" class="s" font-size="9.25" fill="#000">11 Sep 2020</text>
<text x="508" y="934" class="s" font-size="9.25" fill="#000">21 Sep 2020</text>
<text x="572" y="934" class="s" font-size="9.25" fill="#000">30 Sep 2020</text>
<text x="636" y="934" class="s" font-size="9.25" fill="#000">9 Oct 2020</text>
<text x="700" y="934" class="s" font-size="9.25" fill="#000">19 Oct 2020</text>
<text x="764" y="934" class="s" font-size="9.25" fill="#000">28 Oct 2020</text>
<text x="828" y="934" class="s" font-size="9.25" fill="#000">6 Nov 2020</text>
<text x="892" y="934" class="s" font-size="9.25" fill="#000">16 Nov 2020</text>
<text x="956" y="934" class="s" font-size="9.25" fill="#000">25 Nov 2020</text>
<text x="1020" y="934" class="s" font-size="9.25" fill="#000">4 Dec 2020</text>
<text x="1084" y="934" class="s" font-size="9.25" fill="#000">14 Dec 2020</text>
<text x="1148" y="934" class="s" font-size="9.25" fill="#000">23 Dec 2020</text>
<text x="1212" y="934" class="s" font-size="9.25" fill="#000">4 Jan 2021</text>
<text x="1276" y="934" class="s" font-size="9.25" fill="#000">13 Jan 2021</text>
<text x="1340" y="934" class="s" font-size="9.25" fill="#000">22 Jan 2021</text>
<text x="1404" y="934" class="s" font-size="9.25" fill="#000">1 Feb 2021</text>
<g clip-path="url(#ctb)">
<rect x="-2.5" y="-4.5" width="13" height="15" rx="1" fill="#fff" stroke="#3c7edc" stroke-width="1.2"/>
<g stroke="#c4d8f4" stroke-width="1"><line x1="0" y1="1.5" x2="9" y2="1.5"/><line x1="0" y1="3.5" x2="9" y2="3.5"/><line x1="0" y1="5.5" x2="9" y2="5.5"/><line x1="0" y1="7.5" x2="9" y2="7.5"/></g>
<rect x="0" y="5" width="1" height="1" fill="#e00"/><rect x="0" y="2.6" width="1.3" height="1" fill="#222"/>
<path d="M23.5,-2 V8.5 H31" fill="#f8f8f8" stroke="#b0b0b0" stroke-width="1"/>
<line x1="35.5" y1="8" x2="40" y2="12.7" stroke="#d8a020" stroke-width="2.2" stroke-linecap="round"/>
<circle cx="31.3" cy="3.2" r="5.2" fill="#d4e6f8" fill-opacity="0.9" stroke="#7a9cd8" stroke-width="1.2"/>
<rect x="29.5" y="1" width="2.6" height="4.5" fill="#a8c0dc" opacity="0.8"/>
<rect x="48" y="0" width="1" height="13.8" fill="#a0a0a0" shape-rendering="crispEdges"/>
<path d="M58.5,-2 V8.5 Q58.5,9.5 59.5,9.5 H67" fill="#fff" stroke="#909090" stroke-width="1"/>
<rect x="59" y="-2" width="10" height="11" fill="#fff"/>
<g stroke="#b0b0b0" stroke-width="1"><line x1="60.5" y1="3.5" x2="66" y2="3.5"/><line x1="60.5" y1="5.5" x2="65" y2="5.5"/></g>
<path d="M66.2,2.3 h3.6 v3.9 h4.1 v3.6 h-4.1 v3.7 h-3.6 v-3.7 h-4.1 v-3.6 h4.1 z" fill="#22c022" stroke="#0a8a0a" stroke-width="0.8"/>
<path d="M66.8,3 h2.4 v3.9 h-2.4 z" fill="#6ae86a" opacity="0.7"/>
<text x="76.5" y="7.2" font-size="12.3" fill="#000" textLength="37" lengthAdjust="spacingAndGlyphs">新订单</text>
<path d="M125,5.4 L131,-1.4 L141.2,3.6 L133.4,10 Z" fill="#eeb82c" stroke="#9a6a0c" stroke-width="0.7"/>
<path d="M127,5 L131.6,-0.4 L139.2,3.4 L133.4,8.2 Z" fill="#f8d860"/>
<path d="M125,5.6 L133.4,10.2 L141.2,3.8 L141.3,6 L133.5,12.4 L124.9,7.6 Z" fill="#c88e16" stroke="#8a5a08" stroke-width="0.6"/>
<path d="M125.4,6.6 L133.4,11.2 L141,5" fill="none" stroke="#f0d080" stroke-width="0.6"/>
<rect x="156" y="-3" width="10.6" height="8" fill="#2a8ef0"/>
<rect x="158" y="0" width="3" height="1.2" fill="#fff"/><rect x="162" y="-1" width="1.5" height="5" fill="#fff"/>
<path d="M156,11.3 Q153.3,11.3 153.5,8.8 Q153.8,6.6 156.3,6.8 Q157.5,3.8 160.6,4.6 Q162.6,3.2 164.4,5.6 Q168.8,5.2 168.8,8.6 Q168.8,11.3 166,11.3 Z" fill="#f4f8ff" stroke="#6c8cc8" stroke-width="1"/>
<path d="M189,-4 A7.8,7.8 0 0 1 189,11.6 Z" fill="#7ec27e"/>
<path d="M189,-1.5 A5,5 0 0 1 189,8.5 Z" fill="#a8d8a8"/>
<g fill="none" stroke="#4a78d8" stroke-width="1"><path d="M189,-4 A7.6,7.6 0 0 0 189,11.4" opacity="0.55"/><path d="M189,-1.5 A5,5 0 0 0 189,8.5" opacity="0.8"/><path d="M189,1 A2.5,2.5 0 0 0 189,6"/></g>
<circle cx="189" cy="3.4" r="1.5" fill="#2a5cd0"/>
<rect x="188.3" y="4" width="1.4" height="7.7" fill="#2a9a2a"/>
<ellipse cx="216" cy="-0.5" rx="8" ry="3" fill="#4a98d8"/>
<path d="M208,0.5 Q216,4 224,0.5 L219.5,7 L218,11.6 L214,8.8 L213.5,7 Z" fill="#f2d444" stroke="#c8a420" stroke-width="0.6"/>
<circle cx="220.4" cy="7.8" r="4" fill="#e02818"/><rect x="218.8" y="6.2" width="3.2" height="3.2" fill="#fff"/>
<text x="229.5" y="7.2" font-size="12.3" fill="#000" textLength="47.5" lengthAdjust="spacingAndGlyphs">自动交易</text>
<rect x="284" y="0" width="1" height="16" fill="#a0a0a0" shape-rendering="crispEdges"/>
<rect x="285" y="0" width="1" height="16" fill="#fafafa" shape-rendering="crispEdges"/>
<g fill="#b4b4b4" shape-rendering="crispEdges"><rect x="288" y="0" width="3" height="1"/><rect x="288" y="2" width="3" height="1"/><rect x="288" y="4" width="3" height="1"/><rect x="288" y="6" width="3" height="1"/><rect x="288" y="8" width="3" height="1"/><rect x="288" y="10" width="3" height="1"/><rect x="288" y="12" width="3" height="1"/></g>
<g stroke="#505050" stroke-width="1.1" fill="none"><line x1="302.40000000000003" y1="-1" x2="302.40000000000003" y2="11.7"/><line x1="299.8" y1="9.4" x2="312.8" y2="9.4"/></g><polygon points="314.0,9.4 311.40000000000003,7.8 311.40000000000003,11" fill="#505050"/>
<g stroke="#18a018" stroke-width="1.3" fill="none"><path d="M306.3,6.6 H309.4 V0.6 H311.2"/></g>
<rect x="322" y="0" width="1" height="13.8" fill="#a0a0a0" shape-rendering="crispEdges"/>
<rect x="323" y="0" width="24" height="13.5" fill="#f7f7f7"/>
<g stroke="#505050" stroke-width="1.1" fill="none"><line x1="330.6" y1="-1" x2="330.6" y2="11.7"/><line x1="328" y1="9.4" x2="341" y2="9.4"/></g><polygon points="342.2,9.4 339.6,7.8 339.6,11" fill="#505050"/>
<rect x="334.3" y="-2" width="4.6" height="7.4" fill="#2ecc2e" stroke="#18a018" stroke-width="0.8"/><rect x="336" y="5.4" width="1.2" height="2.4" fill="#18a018"/>
<g stroke="#505050" stroke-width="1.1" fill="none"><line x1="358.6" y1="-1" x2="358.6" y2="11.7"/><line x1="356" y1="9.4" x2="369" y2="9.4"/></g><polygon points="370.2,9.4 367.6,7.8 367.6,11" fill="#505050"/>
<path d="M357.2,6.9 Q361,2 363.2,1.2 Q365.5,2.4 368.8,5.4" fill="none" stroke="#2a9a2a" stroke-width="1.2"/>
<rect x="379" y="0" width="1" height="13.8" fill="#a0a0a0" shape-rendering="crispEdges"/>
<line x1="398.2" y1="6.4" x2="403.5" y2="11.0" stroke="#d8a828" stroke-width="2.4" stroke-linecap="round"/>
<circle cx="394.2" cy="2.2" r="5.5" fill="#d2e6fa" stroke="#5a86d0" stroke-width="1.2"/>
<rect x="391.2" y="1.4000000000000001" width="6" height="1.7" fill="#3a6cc8"/>
<rect x="393.34999999999997" y="-0.7999999999999998" width="1.7" height="6" fill="#3a6cc8"/>
<line x1="426.2" y1="6.4" x2="431.5" y2="11.0" stroke="#d8a828" stroke-width="2.4" stroke-linecap="round"/>
<circle cx="422.2" cy="2.2" r="5.5" fill="#d2e6fa" stroke="#5a86d0" stroke-width="1.2"/>
<rect x="419.2" y="1.4000000000000001" width="6" height="1.7" fill="#3a6cc8"/>
<rect x="444.3" y="-3" width="7.6" height="6.8" fill="#3aa832"/><rect x="452.4" y="-3" width="7.7" height="6.8" fill="#2a64d8"/><rect x="444.3" y="4.3" width="7.6" height="6.9" fill="#2a64d8"/><rect x="452.4" y="4.3" width="7.7" height="6.9" fill="#3aa832"/>
<g fill="#fff"><rect x="445.6" y="-0.5" width="5" height="2.2"/><rect x="453.7" y="-0.5" width="5" height="2.2"/><rect x="445.6" y="7.2" width="5" height="2.6"/><rect x="453.7" y="7.2" width="5" height="2.6"/></g>
<g fill="#2a64d8"><rect x="446.8" y="8.6" width="2.6" height="1.2"/></g><g fill="#3aa832"><rect x="454.9" y="8.6" width="2.6" height="1.2"/></g>
<rect x="469" y="0" width="1" height="13.8" fill="#a0a0a0" shape-rendering="crispEdges"/>
<rect x="474" y="0" width="1" height="13.8" fill="#a0a0a0" shape-rendering="crispEdges"/>
<rect x="475" y="0" width="24" height="13.5" fill="#f7f7f7"/>
<g stroke="#505050" stroke-width="1.1" fill="none"><line x1="482.6" y1="-1" x2="482.6" y2="11.7"/><line x1="480" y1="9.4" x2="493" y2="9.4"/></g><polygon points="494.2,9.4 491.6,7.8 491.6,11" fill="#505050"/>
<polygon points="487,0.2 491.2,3.6 487,7" fill="#2ecc2e" stroke="#18a018" stroke-width="0.8"/>
<rect x="502" y="0" width="1" height="13.8" fill="#a0a0a0" shape-rendering="crispEdges"/>
<rect x="503" y="0" width="24" height="13.5" fill="#f7f7f7"/>
<g stroke="#505050" stroke-width="1.1" fill="none"><line x1="510.8" y1="-1" x2="510.8" y2="11.7"/><line x1="508.2" y1="9.4" x2="521.2" y2="9.4"/></g><polygon points="522.4,9.4 519.8,7.8 519.8,11" fill="#505050"/>
<rect x="515.9" y="-1" width="1.2" height="8.8" fill="#2070c0"/><path d="M522,3.5 H518 M519.8,1.6 L517.6,3.5 L519.8,5.4" stroke="#e04818" stroke-width="1.1" fill="none"/>
<rect x="531" y="0" width="1" height="13.8" fill="#a0a0a0" shape-rendering="crispEdges"/>
<path d="M542.0,-2 V8.5 Q542.0,9.5 543.0,9.5 H550.5" fill="#fff" stroke="#909090" stroke-width="1"/>
<rect x="542.5" y="-2" width="10" height="11" fill="#fff"/>
<g stroke="#b0b0b0" stroke-width="1"><line x1="544.0" y1="3.5" x2="549.5" y2="3.5"/><line x1="544.0" y1="5.5" x2="548.5" y2="5.5"/></g>
<path d="M549.7,2.3 h3.6 v3.9 h4.1 v3.6 h-4.1 v3.7 h-3.6 v-3.7 h-4.1 v-3.6 h4.1 z" fill="#22c022" stroke="#0a8a0a" stroke-width="0.8"/>
<path d="M550.3,3 h2.4 v3.9 h-2.4 z" fill="#6ae86a" opacity="0.7"/>
<polygon points="563,3 568.4,3 565.7,6.2" fill="#000"/>
<circle cx="587" cy="3.4" r="7.4" fill="#fff" stroke="#1660c4" stroke-width="2.2"/><circle cx="587" cy="3.4" r="5.6" fill="#f4f8fc"/>
<path d="M587,-1 V3.6 H590" stroke="#303030" stroke-width="1.1" fill="none"/><rect x="586.5" y="7" width="1" height="1.4" fill="#6090d0"/>
<polygon points="602,3 607.4,3 604.7,6.2" fill="#000"/>
<rect x="618.8" y="-3" width="14.6" height="13.6" fill="#fff" stroke="#4a84d4" stroke-width="1.2"/><line x1="618.8" y1="5.2" x2="633.4" y2="5.2" stroke="#4a84d4" stroke-width="1"/>
<path d="M620.5,3.4 L623,3.4 L625,1.8 L627.5,2.4 L630,1.2 L632,1.4" stroke="#b03818" stroke-width="1" fill="none"/><path d="M620.5,8.6 L623,8.2 L625,7 L627.5,8.4 L629.5,6.4 L632,8.6" stroke="#2a9a2a" stroke-width="1" fill="none"/>
<polygon points="641,3 646.4,3 643.7,6.2" fill="#000"/>
<rect x="652" y="0" width="1" height="16" fill="#a0a0a0" shape-rendering="crispEdges"/>
<rect x="653" y="0" width="1" height="16" fill="#fafafa" shape-rendering="crispEdges"/>
<g fill="#b4b4b4" shape-rendering="crispEdges"><rect x="656" y="0" width="3" height="1"/><rect x="656" y="2" width="3" height="1"/><rect x="656" y="4" width="3" height="1"/><rect x="656" y="6" width="3" height="1"/><rect x="656" y="8" width="3" height="1"/><rect x="656" y="10" width="3" height="1"/><rect x="656" y="12" width="3" height="1"/></g>
<rect x="662" y="0" width="1" height="13.8" fill="#a0a0a0" shape-rendering="crispEdges"/>
<rect x="663" y="0" width="24" height="13.5" fill="#f7f7f7"/>
<path d="M670.2,-3 L670.2,7.6 L672.8,5.2 L675.2,10.6 L677,9.8 L674.6,4.6 L678,4.4 Z" fill="#505050"/>
<g fill="#404040" shape-rendering="crispEdges"><rect x="702" y="0" width="1" height="12"/><rect x="695" y="4" width="15" height="1"/></g>
<rect x="719" y="0" width="1" height="13.8" fill="#a0a0a0" shape-rendering="crispEdges"/>
<g fill="#404040" shape-rendering="crispEdges"><rect x="736" y="0" width="1" height="11"/><rect x="759" y="4" width="12" height="1"/></g>
<line x1="786.5" y1="10.8" x2="798.5" y2="-0.4" stroke="#404040" stroke-width="1.1"/>
<g stroke="#404040" stroke-width="1"><line x1="813" y1="7" x2="822" y2="-2"/><line x1="815.5" y1="10.5" x2="826.5" y2="-0.5"/><line x1="818.5" y1="10.8" x2="827.5" y2="2"/></g>
<g stroke="#606060" stroke-width="0.7"><line x1="815" y1="3" x2="819" y2="9"/><line x1="818" y1="0" x2="822" y2="6"/><line x1="821" y1="-1" x2="825" y2="4"/></g>
<text x="823.6" y="12.8" font-size="6.5" font-weight="bold" fill="#303030">E</text>
<g stroke="#404040" stroke-width="1" stroke-dasharray="1 1" shape-rendering="crispEdges"><line x1="842" y1="0.5" x2="855" y2="0.5"/><line x1="842" y1="4.5" x2="855" y2="4.5"/><line x1="842" y1="8.5" x2="851" y2="8.5"/></g>
<text x="851.4" y="12.8" font-size="6.5" font-weight="bold" fill="#303030">F</text>
<text x="872.6" y="8.6" font-size="12.5" font-weight="bold" fill="#707070" textLength="8.2" lengthAdjust="spacingAndGlyphs">A</text>
<rect x="899.5" y="-3" width="11" height="13.5" fill="none" stroke="#505050" stroke-width="1" stroke-dasharray="1 1" shape-rendering="crispEdges"/>
<text x="902" y="8.6" font-size="10.5" font-weight="bold" fill="#606060">T</text>
<path d="M927.3,0.6 l2.4,-2 l2.4,2 l-2.4,2 z M933.6,8 l3,-2.5 l3,2.5 l-3,2.5 z" fill="#404040"/><path d="M927.8,4.6 L930.4,7 L934.2,2.4" stroke="#404040" stroke-width="1.4" fill="none"/>
<polygon points="947,3 952.4,3 949.7,6.2" fill="#000"/>
<rect x="958" y="0" width="1" height="16" fill="#a0a0a0" shape-rendering="crispEdges"/>
<rect x="959" y="0" width="1" height="16" fill="#fafafa" shape-rendering="crispEdges"/>
<g fill="#b4b4b4" shape-rendering="crispEdges"><rect x="962" y="0" width="3" height="1"/><rect x="962" y="2" width="3" height="1"/><rect x="962" y="4" width="3" height="1"/><rect x="962" y="6" width="3" height="1"/><rect x="962" y="8" width="3" height="1"/><rect x="962" y="10" width="3" height="1"/><rect x="962" y="12" width="3" height="1"/></g>
<rect x="1137" y="0" width="24" height="13.5" fill="#f7f7f7"/>
<rect x="1136" y="0" width="1" height="13.8" fill="#a0a0a0" shape-rendering="crispEdges"/>
<text x="973.2" y="8.2" font-size="10" fill="#404040" textLength="13.3" lengthAdjust="spacingAndGlyphs">M1</text>
<text x="1001.2" y="8.2" font-size="10" fill="#404040" textLength="13.5" lengthAdjust="spacingAndGlyphs">M5</text>
<text x="1027.2" y="8.2" font-size="10" fill="#404040" textLength="18.5" lengthAdjust="spacingAndGlyphs">M15</text>
<text x="1055" y="8.2" font-size="10" fill="#404040" textLength="18.6" lengthAdjust="spacingAndGlyphs">M30</text>
<text x="1086" y="8.2" font-size="10" fill="#404040" textLength="12.5" lengthAdjust="spacingAndGlyphs">H1</text>
<text x="1113.4" y="8.2" font-size="10" fill="#404040" textLength="12.8" lengthAdjust="spacingAndGlyphs">H4</text>
<text x="1142.4" y="8.2" font-size="10" fill="#404040" textLength="12.4" lengthAdjust="spacingAndGlyphs">D1</text>
<text x="1170" y="8.2" font-size="10" fill="#404040" textLength="14.6" lengthAdjust="spacingAndGlyphs">W1</text>
<text x="1196" y="8.2" font-size="10" fill="#404040" textLength="15.6" lengthAdjust="spacingAndGlyphs">MN</text>
<rect x="1219" y="0" width="1" height="16" fill="#a0a0a0" shape-rendering="crispEdges"/>
<line x1="1686.2" y1="4.8" x2="1682" y2="9" stroke="#1c50c8" stroke-width="2.2" stroke-linecap="round"/><circle cx="1689.8" cy="1.4" r="3.9" fill="#fff" stroke="#1c50c8" stroke-width="1.4"/>
<path d="M1706,6 Q1706,1.5 1711.5,1.5 Q1717,1.5 1717,6 Q1717,10 1711.5,10.4 L1709.5,12.4 L1709.6,10.2 Q1706,9.6 1706,6 Z" fill="#e4e6ea" stroke="#b8bcc4" stroke-width="0.8"/>
<circle cx="1720.4" cy="1" r="8.3" fill="#e03a20"/>
<text x="1716.6" y="5.8" font-size="13" fill="#fff" font-family="'Liberation Serif',serif">1</text>
</g>
</svg>
</body></html>
